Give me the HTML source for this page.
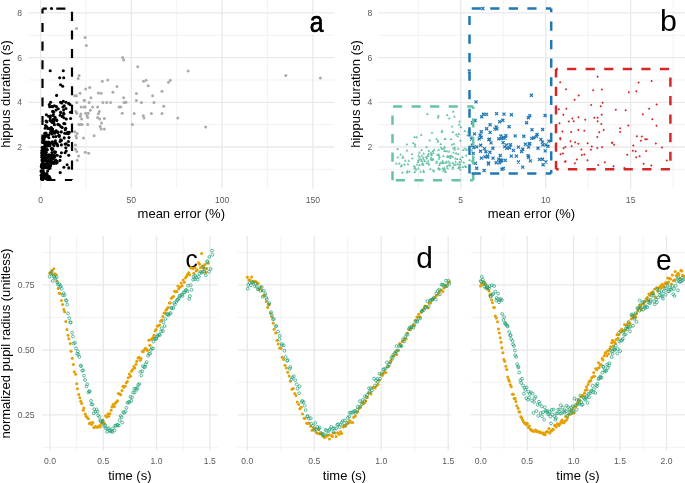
<!DOCTYPE html>
<html><head><meta charset="utf-8"><style>
html,body{margin:0;padding:0;background:#fff;overflow:hidden;width:685px;height:483px;}
svg{display:block;will-change:transform;}
</style></head><body>
<svg width="685" height="483" viewBox="0 0 685 483">
<rect width="685" height="483" fill="#fff"/>
<line x1="28.3" x2="334.3" y1="169.37" y2="169.37" stroke="#f1f1f1" stroke-width="0.9"/>
<line x1="28.3" x2="334.3" y1="124.67" y2="124.67" stroke="#f1f1f1" stroke-width="0.9"/>
<line x1="28.3" x2="334.3" y1="79.97" y2="79.97" stroke="#f1f1f1" stroke-width="0.9"/>
<line x1="28.3" x2="334.3" y1="35.27" y2="35.27" stroke="#f1f1f1" stroke-width="0.9"/>
<line x1="85.97" x2="85.97" y1="0" y2="188.7" stroke="#f1f1f1" stroke-width="0.9"/>
<line x1="176.72" x2="176.72" y1="0" y2="188.7" stroke="#f1f1f1" stroke-width="0.9"/>
<line x1="267.48" x2="267.48" y1="0" y2="188.7" stroke="#f1f1f1" stroke-width="0.9"/>
<line x1="28.3" x2="334.3" y1="147.02" y2="147.02" stroke="#e9e9e9" stroke-width="1.3"/>
<line x1="28.3" x2="334.3" y1="102.32" y2="102.32" stroke="#e9e9e9" stroke-width="1.3"/>
<line x1="28.3" x2="334.3" y1="57.62" y2="57.62" stroke="#e9e9e9" stroke-width="1.3"/>
<line x1="28.3" x2="334.3" y1="12.92" y2="12.92" stroke="#e9e9e9" stroke-width="1.3"/>
<line x1="40.60" x2="40.60" y1="0" y2="188.7" stroke="#e9e9e9" stroke-width="1.3"/>
<line x1="131.35" x2="131.35" y1="0" y2="188.7" stroke="#e9e9e9" stroke-width="1.3"/>
<line x1="222.10" x2="222.10" y1="0" y2="188.7" stroke="#e9e9e9" stroke-width="1.3"/>
<line x1="312.85" x2="312.85" y1="0" y2="188.7" stroke="#e9e9e9" stroke-width="1.3"/>
<line x1="378.4" x2="685" y1="169.37" y2="169.37" stroke="#f1f1f1" stroke-width="0.9"/>
<line x1="378.4" x2="685" y1="124.67" y2="124.67" stroke="#f1f1f1" stroke-width="0.9"/>
<line x1="378.4" x2="685" y1="79.97" y2="79.97" stroke="#f1f1f1" stroke-width="0.9"/>
<line x1="378.4" x2="685" y1="35.27" y2="35.27" stroke="#f1f1f1" stroke-width="0.9"/>
<line x1="418.27" x2="418.27" y1="0" y2="188.7" stroke="#f1f1f1" stroke-width="0.9"/>
<line x1="503.23" x2="503.23" y1="0" y2="188.7" stroke="#f1f1f1" stroke-width="0.9"/>
<line x1="588.17" x2="588.17" y1="0" y2="188.7" stroke="#f1f1f1" stroke-width="0.9"/>
<line x1="673.12" x2="673.12" y1="0" y2="188.7" stroke="#f1f1f1" stroke-width="0.9"/>
<line x1="378.4" x2="685" y1="147.02" y2="147.02" stroke="#e9e9e9" stroke-width="1.3"/>
<line x1="378.4" x2="685" y1="102.32" y2="102.32" stroke="#e9e9e9" stroke-width="1.3"/>
<line x1="378.4" x2="685" y1="57.62" y2="57.62" stroke="#e9e9e9" stroke-width="1.3"/>
<line x1="378.4" x2="685" y1="12.92" y2="12.92" stroke="#e9e9e9" stroke-width="1.3"/>
<line x1="460.75" x2="460.75" y1="0" y2="188.7" stroke="#e9e9e9" stroke-width="1.3"/>
<line x1="545.70" x2="545.70" y1="0" y2="188.7" stroke="#e9e9e9" stroke-width="1.3"/>
<line x1="630.65" x2="630.65" y1="0" y2="188.7" stroke="#e9e9e9" stroke-width="1.3"/>
<line x1="41.8" x2="217.8" y1="447.40" y2="447.40" stroke="#f1f1f1" stroke-width="0.9"/>
<line x1="41.8" x2="217.8" y1="382.40" y2="382.40" stroke="#f1f1f1" stroke-width="0.9"/>
<line x1="41.8" x2="217.8" y1="317.40" y2="317.40" stroke="#f1f1f1" stroke-width="0.9"/>
<line x1="41.8" x2="217.8" y1="252.40" y2="252.40" stroke="#f1f1f1" stroke-width="0.9"/>
<line x1="76.64" x2="76.64" y1="236.1" y2="450.5" stroke="#f1f1f1" stroke-width="0.9"/>
<line x1="129.93" x2="129.93" y1="236.1" y2="450.5" stroke="#f1f1f1" stroke-width="0.9"/>
<line x1="183.21" x2="183.21" y1="236.1" y2="450.5" stroke="#f1f1f1" stroke-width="0.9"/>
<line x1="41.8" x2="217.8" y1="414.90" y2="414.90" stroke="#e9e9e9" stroke-width="1.3"/>
<line x1="41.8" x2="217.8" y1="349.90" y2="349.90" stroke="#e9e9e9" stroke-width="1.3"/>
<line x1="41.8" x2="217.8" y1="284.90" y2="284.90" stroke="#e9e9e9" stroke-width="1.3"/>
<line x1="50.00" x2="50.00" y1="236.1" y2="450.5" stroke="#e9e9e9" stroke-width="1.3"/>
<line x1="103.28" x2="103.28" y1="236.1" y2="450.5" stroke="#e9e9e9" stroke-width="1.3"/>
<line x1="156.57" x2="156.57" y1="236.1" y2="450.5" stroke="#e9e9e9" stroke-width="1.3"/>
<line x1="209.85" x2="209.85" y1="236.1" y2="450.5" stroke="#e9e9e9" stroke-width="1.3"/>
<line x1="237.7" x2="450.9" y1="447.40" y2="447.40" stroke="#f1f1f1" stroke-width="0.9"/>
<line x1="237.7" x2="450.9" y1="382.40" y2="382.40" stroke="#f1f1f1" stroke-width="0.9"/>
<line x1="237.7" x2="450.9" y1="317.40" y2="317.40" stroke="#f1f1f1" stroke-width="0.9"/>
<line x1="237.7" x2="450.9" y1="252.40" y2="252.40" stroke="#f1f1f1" stroke-width="0.9"/>
<line x1="280.75" x2="280.75" y1="236.1" y2="450.5" stroke="#f1f1f1" stroke-width="0.9"/>
<line x1="347.73" x2="347.73" y1="236.1" y2="450.5" stroke="#f1f1f1" stroke-width="0.9"/>
<line x1="414.71" x2="414.71" y1="236.1" y2="450.5" stroke="#f1f1f1" stroke-width="0.9"/>
<line x1="237.7" x2="450.9" y1="414.90" y2="414.90" stroke="#e9e9e9" stroke-width="1.3"/>
<line x1="237.7" x2="450.9" y1="349.90" y2="349.90" stroke="#e9e9e9" stroke-width="1.3"/>
<line x1="237.7" x2="450.9" y1="284.90" y2="284.90" stroke="#e9e9e9" stroke-width="1.3"/>
<line x1="247.26" x2="247.26" y1="236.1" y2="450.5" stroke="#e9e9e9" stroke-width="1.3"/>
<line x1="314.24" x2="314.24" y1="236.1" y2="450.5" stroke="#e9e9e9" stroke-width="1.3"/>
<line x1="381.22" x2="381.22" y1="236.1" y2="450.5" stroke="#e9e9e9" stroke-width="1.3"/>
<line x1="448.20" x2="448.20" y1="236.1" y2="450.5" stroke="#e9e9e9" stroke-width="1.3"/>
<line x1="470.8" x2="685" y1="447.40" y2="447.40" stroke="#f1f1f1" stroke-width="0.9"/>
<line x1="470.8" x2="685" y1="382.40" y2="382.40" stroke="#f1f1f1" stroke-width="0.9"/>
<line x1="470.8" x2="685" y1="317.40" y2="317.40" stroke="#f1f1f1" stroke-width="0.9"/>
<line x1="470.8" x2="685" y1="252.40" y2="252.40" stroke="#f1f1f1" stroke-width="0.9"/>
<line x1="503.98" x2="503.98" y1="236.1" y2="450.5" stroke="#f1f1f1" stroke-width="0.9"/>
<line x1="550.41" x2="550.41" y1="236.1" y2="450.5" stroke="#f1f1f1" stroke-width="0.9"/>
<line x1="596.83" x2="596.83" y1="236.1" y2="450.5" stroke="#f1f1f1" stroke-width="0.9"/>
<line x1="643.26" x2="643.26" y1="236.1" y2="450.5" stroke="#f1f1f1" stroke-width="0.9"/>
<line x1="470.8" x2="685" y1="414.90" y2="414.90" stroke="#e9e9e9" stroke-width="1.3"/>
<line x1="470.8" x2="685" y1="349.90" y2="349.90" stroke="#e9e9e9" stroke-width="1.3"/>
<line x1="470.8" x2="685" y1="284.90" y2="284.90" stroke="#e9e9e9" stroke-width="1.3"/>
<line x1="480.77" x2="480.77" y1="236.1" y2="450.5" stroke="#e9e9e9" stroke-width="1.3"/>
<line x1="527.19" x2="527.19" y1="236.1" y2="450.5" stroke="#e9e9e9" stroke-width="1.3"/>
<line x1="573.62" x2="573.62" y1="236.1" y2="450.5" stroke="#e9e9e9" stroke-width="1.3"/>
<line x1="620.04" x2="620.04" y1="236.1" y2="450.5" stroke="#e9e9e9" stroke-width="1.3"/>
<line x1="666.47" x2="666.47" y1="236.1" y2="450.5" stroke="#e9e9e9" stroke-width="1.3"/>
<text transform="translate(309.8 32.1) scale(0.825 1)" font-size="30" fill="#000" stroke="#fff" stroke-width="5" stroke-linejoin="round" paint-order="stroke" style="font-family:'Liberation Sans',sans-serif">a</text>
<text transform="translate(309.8 32.1) scale(0.825 1)" font-size="30" fill="#000" stroke="#000" stroke-width="0.5" style="font-family:'Liberation Sans',sans-serif">a</text>
<text transform="translate(660.1 31.3) scale(1.0 1)" font-size="30.4" fill="#000" stroke="#fff" stroke-width="4" stroke-linejoin="round" paint-order="stroke" style="font-family:'Liberation Sans',sans-serif">b</text>
<text transform="translate(185.5 267.65) scale(0.97 1)" font-size="25.2" fill="#000" stroke="#fff" stroke-width="0" stroke-linejoin="round" paint-order="stroke" style="font-family:'Liberation Sans',sans-serif">c</text>
<text transform="translate(416.2 268.0) scale(0.99 1)" font-size="30.2" fill="#000" stroke="#fff" stroke-width="4" stroke-linejoin="round" paint-order="stroke" style="font-family:'Liberation Sans',sans-serif">d</text>
<text transform="translate(655.96 269.7) scale(0.985 1)" font-size="28.7" fill="#000" stroke="#fff" stroke-width="4" stroke-linejoin="round" paint-order="stroke" style="font-family:'Liberation Sans',sans-serif">e</text>
<g fill="#ababab"><circle cx="76.5" cy="28.5" r="1.5"/><circle cx="85.1" cy="37.6" r="1.5"/><circle cx="86.3" cy="45.5" r="1.5"/><circle cx="122.6" cy="57.5" r="1.5"/><circle cx="123.6" cy="60.1" r="1.5"/><circle cx="79.1" cy="75.5" r="1.5"/><circle cx="78.2" cy="78.6" r="1.5"/><circle cx="102.3" cy="81.3" r="1.5"/><circle cx="107.8" cy="80.0" r="1.5"/><circle cx="117.0" cy="86.5" r="1.5"/><circle cx="89.7" cy="87.6" r="1.5"/><circle cx="85.6" cy="89.0" r="1.5"/><circle cx="112.9" cy="92.2" r="1.5"/><circle cx="80.0" cy="93.2" r="1.5"/><circle cx="98.3" cy="92.9" r="1.5"/><circle cx="101.1" cy="93.2" r="1.5"/><circle cx="74.7" cy="95.7" r="1.5"/><circle cx="76.5" cy="95.7" r="1.5"/><circle cx="90.9" cy="97.8" r="1.5"/><circle cx="123.6" cy="97.8" r="1.5"/><circle cx="84.4" cy="100.3" r="1.5"/><circle cx="76.8" cy="102.5" r="1.5"/><circle cx="84.2" cy="100.5" r="1.5"/><circle cx="89.1" cy="102.5" r="1.5"/><circle cx="102.9" cy="102.5" r="1.5"/><circle cx="106.7" cy="102.5" r="1.5"/><circle cx="110.6" cy="102.5" r="1.5"/><circle cx="124.0" cy="102.5" r="1.5"/><circle cx="125.4" cy="102.5" r="1.5"/><circle cx="81.2" cy="107.0" r="1.5"/><circle cx="84.2" cy="107.0" r="1.5"/><circle cx="85.1" cy="107.0" r="1.5"/><circle cx="92.6" cy="107.0" r="1.5"/><circle cx="97.6" cy="107.0" r="1.5"/><circle cx="119.0" cy="107.0" r="1.5"/><circle cx="120.8" cy="107.0" r="1.5"/><circle cx="75.9" cy="111.4" r="1.5"/><circle cx="76.8" cy="113.2" r="1.5"/><circle cx="90.4" cy="110.2" r="1.5"/><circle cx="99.3" cy="111.4" r="1.5"/><circle cx="98.3" cy="113.7" r="1.5"/><circle cx="122.2" cy="113.2" r="1.5"/><circle cx="80.9" cy="114.0" r="1.5"/><circle cx="80.3" cy="116.2" r="1.5"/><circle cx="85.6" cy="113.2" r="1.5"/><circle cx="88.2" cy="113.2" r="1.5"/><circle cx="87.0" cy="115.8" r="1.5"/><circle cx="87.7" cy="117.6" r="1.5"/><circle cx="81.6" cy="119.0" r="1.5"/><circle cx="97.6" cy="117.6" r="1.5"/><circle cx="99.7" cy="119.0" r="1.5"/><circle cx="104.3" cy="118.5" r="1.5"/><circle cx="101.5" cy="122.9" r="1.5"/><circle cx="78.9" cy="124.6" r="1.5"/><circle cx="80.7" cy="124.6" r="1.5"/><circle cx="82.1" cy="124.6" r="1.5"/><circle cx="87.7" cy="124.6" r="1.5"/><circle cx="100.2" cy="126.4" r="1.5"/><circle cx="101.1" cy="129.0" r="1.5"/><circle cx="104.4" cy="129.0" r="1.5"/><circle cx="74.7" cy="131.7" r="1.5"/><circle cx="77.2" cy="133.5" r="1.5"/><circle cx="75.9" cy="136.1" r="1.5"/><circle cx="76.5" cy="137.9" r="1.5"/><circle cx="83.5" cy="137.9" r="1.5"/><circle cx="94.1" cy="135.7" r="1.5"/><circle cx="75.4" cy="144.9" r="1.5"/><circle cx="75.4" cy="149.3" r="1.5"/><circle cx="76.8" cy="151.4" r="1.5"/><circle cx="85.3" cy="152.3" r="1.5"/><circle cx="88.6" cy="153.3" r="1.5"/><circle cx="78.6" cy="156.0" r="1.5"/><circle cx="77.2" cy="160.2" r="1.5"/><circle cx="137.7" cy="66.7" r="1.5"/><circle cx="143.5" cy="81.3" r="1.5"/><circle cx="146.1" cy="80.2" r="1.5"/><circle cx="148.2" cy="85.7" r="1.5"/><circle cx="168.5" cy="82.3" r="1.5"/><circle cx="170.4" cy="80.2" r="1.5"/><circle cx="162.0" cy="91.3" r="1.5"/><circle cx="136.4" cy="93.4" r="1.5"/><circle cx="152.6" cy="95.7" r="1.5"/><circle cx="136.4" cy="100.5" r="1.5"/><circle cx="141.4" cy="102.4" r="1.5"/><circle cx="154.0" cy="102.4" r="1.5"/><circle cx="125.9" cy="102.2" r="1.5"/><circle cx="163.7" cy="106.3" r="1.5"/><circle cx="134.2" cy="113.6" r="1.5"/><circle cx="143.3" cy="115.8" r="1.5"/><circle cx="144.0" cy="118.1" r="1.5"/><circle cx="151.4" cy="113.6" r="1.5"/><circle cx="162.0" cy="113.6" r="1.5"/><circle cx="177.8" cy="118.1" r="1.5"/><circle cx="132.4" cy="124.6" r="1.5"/><circle cx="188.2" cy="71.1" r="1.5"/><circle cx="205.7" cy="126.9" r="1.5"/><circle cx="285.8" cy="75.5" r="1.5"/><circle cx="320.4" cy="77.9" r="1.5"/></g>
<g fill="#000"><circle cx="42.0" cy="176.2" r="1.55"/><circle cx="42.4" cy="174.0" r="1.55"/><circle cx="45.7" cy="178.8" r="1.55"/><circle cx="42.1" cy="178.7" r="1.55"/><circle cx="43.3" cy="175.2" r="1.55"/><circle cx="43.2" cy="173.1" r="1.55"/><circle cx="42.3" cy="173.6" r="1.55"/><circle cx="41.2" cy="170.8" r="1.55"/><circle cx="44.0" cy="178.0" r="1.55"/><circle cx="48.8" cy="177.6" r="1.55"/><circle cx="42.5" cy="173.0" r="1.55"/><circle cx="41.4" cy="178.8" r="1.55"/><circle cx="43.3" cy="172.6" r="1.55"/><circle cx="46.5" cy="174.9" r="1.55"/><circle cx="41.2" cy="171.4" r="1.55"/><circle cx="46.9" cy="174.1" r="1.55"/><circle cx="43.2" cy="172.1" r="1.55"/><circle cx="41.2" cy="175.2" r="1.55"/><circle cx="47.5" cy="177.9" r="1.55"/><circle cx="42.6" cy="171.7" r="1.55"/><circle cx="43.0" cy="170.6" r="1.55"/><circle cx="46.7" cy="173.6" r="1.55"/><circle cx="47.6" cy="171.0" r="1.55"/><circle cx="42.0" cy="178.8" r="1.55"/><circle cx="42.6" cy="172.9" r="1.55"/><circle cx="44.3" cy="175.5" r="1.55"/><circle cx="42.1" cy="179.2" r="1.55"/><circle cx="42.9" cy="178.8" r="1.55"/><circle cx="48.1" cy="178.1" r="1.55"/><circle cx="46.8" cy="178.6" r="1.55"/><circle cx="44.8" cy="173.9" r="1.55"/><circle cx="49.2" cy="176.6" r="1.55"/><circle cx="43.5" cy="175.8" r="1.55"/><circle cx="41.6" cy="177.7" r="1.55"/><circle cx="44.0" cy="177.1" r="1.55"/><circle cx="42.8" cy="179.4" r="1.55"/><circle cx="47.6" cy="175.7" r="1.55"/><circle cx="43.0" cy="174.2" r="1.55"/><circle cx="60.2" cy="172.6" r="1.55"/><circle cx="42.3" cy="171.6" r="1.55"/><circle cx="45.3" cy="175.4" r="1.55"/><circle cx="42.4" cy="173.0" r="1.55"/><circle cx="41.8" cy="177.3" r="1.55"/><circle cx="42.2" cy="179.4" r="1.55"/><circle cx="50.1" cy="178.4" r="1.55"/><circle cx="42.4" cy="173.3" r="1.55"/><circle cx="43.2" cy="166.6" r="1.55"/><circle cx="43.5" cy="159.9" r="1.55"/><circle cx="43.5" cy="164.2" r="1.55"/><circle cx="42.6" cy="165.5" r="1.55"/><circle cx="55.7" cy="160.1" r="1.55"/><circle cx="43.3" cy="163.5" r="1.55"/><circle cx="56.2" cy="163.3" r="1.55"/><circle cx="42.7" cy="158.4" r="1.55"/><circle cx="45.5" cy="165.3" r="1.55"/><circle cx="42.1" cy="160.7" r="1.55"/><circle cx="46.4" cy="166.9" r="1.55"/><circle cx="45.0" cy="158.4" r="1.55"/><circle cx="51.5" cy="161.1" r="1.55"/><circle cx="42.5" cy="163.6" r="1.55"/><circle cx="41.4" cy="166.2" r="1.55"/><circle cx="54.5" cy="161.6" r="1.55"/><circle cx="45.7" cy="158.3" r="1.55"/><circle cx="41.7" cy="165.3" r="1.55"/><circle cx="45.1" cy="167.1" r="1.55"/><circle cx="49.8" cy="159.3" r="1.55"/><circle cx="60.0" cy="160.4" r="1.55"/><circle cx="42.3" cy="159.2" r="1.55"/><circle cx="45.7" cy="161.0" r="1.55"/><circle cx="50.7" cy="165.7" r="1.55"/><circle cx="53.0" cy="158.5" r="1.55"/><circle cx="49.6" cy="161.3" r="1.55"/><circle cx="50.1" cy="168.0" r="1.55"/><circle cx="47.3" cy="167.7" r="1.55"/><circle cx="45.6" cy="158.4" r="1.55"/><circle cx="68.8" cy="167.9" r="1.55"/><circle cx="47.2" cy="162.1" r="1.55"/><circle cx="48.9" cy="158.9" r="1.55"/><circle cx="49.2" cy="167.0" r="1.55"/><circle cx="45.1" cy="166.1" r="1.55"/><circle cx="67.1" cy="164.7" r="1.55"/><circle cx="43.5" cy="165.4" r="1.55"/><circle cx="52.9" cy="162.9" r="1.55"/><circle cx="47.5" cy="163.8" r="1.55"/><circle cx="53.7" cy="163.5" r="1.55"/><circle cx="63.9" cy="167.3" r="1.55"/><circle cx="42.3" cy="167.4" r="1.55"/><circle cx="48.7" cy="165.7" r="1.55"/><circle cx="47.2" cy="163.2" r="1.55"/><circle cx="45.9" cy="166.6" r="1.55"/><circle cx="50.5" cy="160.7" r="1.55"/><circle cx="45.0" cy="159.2" r="1.55"/><circle cx="50.3" cy="162.5" r="1.55"/><circle cx="41.8" cy="164.3" r="1.55"/><circle cx="45.0" cy="164.0" r="1.55"/><circle cx="52.8" cy="158.8" r="1.55"/><circle cx="42.9" cy="163.1" r="1.55"/><circle cx="43.9" cy="168.0" r="1.55"/><circle cx="49.1" cy="168.6" r="1.55"/><circle cx="45.1" cy="160.6" r="1.55"/><circle cx="42.9" cy="167.6" r="1.55"/><circle cx="44.0" cy="159.5" r="1.55"/><circle cx="46.7" cy="166.9" r="1.55"/><circle cx="45.3" cy="158.3" r="1.55"/><circle cx="46.6" cy="167.6" r="1.55"/><circle cx="41.7" cy="167.2" r="1.55"/><circle cx="56.9" cy="161.3" r="1.55"/><circle cx="50.6" cy="164.4" r="1.55"/><circle cx="57.1" cy="162.4" r="1.55"/><circle cx="48.0" cy="160.6" r="1.55"/><circle cx="53.9" cy="157.0" r="1.55"/><circle cx="54.1" cy="155.2" r="1.55"/><circle cx="44.8" cy="148.0" r="1.55"/><circle cx="68.7" cy="155.3" r="1.55"/><circle cx="43.8" cy="151.8" r="1.55"/><circle cx="43.0" cy="150.5" r="1.55"/><circle cx="50.4" cy="157.4" r="1.55"/><circle cx="51.5" cy="157.3" r="1.55"/><circle cx="48.0" cy="157.5" r="1.55"/><circle cx="43.6" cy="152.0" r="1.55"/><circle cx="57.2" cy="155.2" r="1.55"/><circle cx="46.4" cy="155.5" r="1.55"/><circle cx="44.0" cy="157.6" r="1.55"/><circle cx="47.4" cy="149.7" r="1.55"/><circle cx="51.9" cy="152.6" r="1.55"/><circle cx="53.4" cy="158.0" r="1.55"/><circle cx="55.6" cy="152.0" r="1.55"/><circle cx="65.8" cy="147.8" r="1.55"/><circle cx="42.8" cy="153.4" r="1.55"/><circle cx="52.8" cy="148.9" r="1.55"/><circle cx="42.2" cy="147.2" r="1.55"/><circle cx="46.5" cy="148.9" r="1.55"/><circle cx="45.5" cy="154.3" r="1.55"/><circle cx="47.3" cy="157.4" r="1.55"/><circle cx="44.2" cy="155.3" r="1.55"/><circle cx="44.5" cy="148.8" r="1.55"/><circle cx="46.9" cy="155.5" r="1.55"/><circle cx="54.8" cy="153.1" r="1.55"/><circle cx="50.7" cy="155.3" r="1.55"/><circle cx="43.3" cy="155.5" r="1.55"/><circle cx="48.8" cy="154.7" r="1.55"/><circle cx="41.7" cy="152.9" r="1.55"/><circle cx="47.4" cy="155.9" r="1.55"/><circle cx="41.9" cy="157.2" r="1.55"/><circle cx="50.6" cy="157.7" r="1.55"/><circle cx="53.6" cy="155.6" r="1.55"/><circle cx="43.9" cy="150.8" r="1.55"/><circle cx="51.4" cy="148.4" r="1.55"/><circle cx="60.3" cy="156.5" r="1.55"/><circle cx="66.2" cy="151.0" r="1.55"/><circle cx="43.0" cy="148.2" r="1.55"/><circle cx="54.9" cy="156.6" r="1.55"/><circle cx="46.3" cy="152.6" r="1.55"/><circle cx="54.5" cy="151.7" r="1.55"/><circle cx="41.9" cy="150.6" r="1.55"/><circle cx="43.5" cy="156.7" r="1.55"/><circle cx="51.2" cy="157.0" r="1.55"/><circle cx="45.4" cy="151.2" r="1.55"/><circle cx="65.1" cy="152.7" r="1.55"/><circle cx="52.1" cy="149.8" r="1.55"/><circle cx="44.0" cy="157.5" r="1.55"/><circle cx="49.5" cy="155.4" r="1.55"/><circle cx="43.0" cy="150.0" r="1.55"/><circle cx="61.4" cy="152.7" r="1.55"/><circle cx="42.8" cy="152.8" r="1.55"/><circle cx="46.0" cy="151.0" r="1.55"/><circle cx="51.7" cy="155.4" r="1.55"/><circle cx="44.2" cy="154.8" r="1.55"/><circle cx="41.9" cy="155.2" r="1.55"/><circle cx="43.9" cy="150.5" r="1.55"/><circle cx="52.3" cy="141.8" r="1.55"/><circle cx="49.9" cy="145.7" r="1.55"/><circle cx="55.8" cy="136.6" r="1.55"/><circle cx="64.2" cy="137.9" r="1.55"/><circle cx="48.7" cy="142.0" r="1.55"/><circle cx="59.2" cy="136.5" r="1.55"/><circle cx="46.9" cy="145.4" r="1.55"/><circle cx="44.1" cy="137.9" r="1.55"/><circle cx="44.8" cy="137.1" r="1.55"/><circle cx="42.9" cy="141.6" r="1.55"/><circle cx="60.1" cy="141.5" r="1.55"/><circle cx="52.5" cy="143.6" r="1.55"/><circle cx="56.4" cy="143.5" r="1.55"/><circle cx="69.0" cy="137.6" r="1.55"/><circle cx="42.9" cy="139.1" r="1.55"/><circle cx="66.2" cy="143.8" r="1.55"/><circle cx="61.4" cy="140.4" r="1.55"/><circle cx="44.1" cy="142.2" r="1.55"/><circle cx="47.0" cy="145.9" r="1.55"/><circle cx="57.2" cy="144.2" r="1.55"/><circle cx="61.4" cy="144.9" r="1.55"/><circle cx="47.2" cy="136.3" r="1.55"/><circle cx="53.4" cy="136.8" r="1.55"/><circle cx="55.4" cy="140.9" r="1.55"/><circle cx="46.8" cy="142.0" r="1.55"/><circle cx="60.6" cy="139.8" r="1.55"/><circle cx="48.4" cy="145.6" r="1.55"/><circle cx="44.3" cy="143.2" r="1.55"/><circle cx="65.1" cy="144.1" r="1.55"/><circle cx="46.7" cy="143.7" r="1.55"/><circle cx="68.4" cy="145.2" r="1.55"/><circle cx="68.4" cy="141.5" r="1.55"/><circle cx="45.8" cy="135.9" r="1.55"/><circle cx="45.3" cy="145.5" r="1.55"/><circle cx="49.5" cy="143.2" r="1.55"/><circle cx="53.1" cy="144.1" r="1.55"/><circle cx="51.6" cy="142.4" r="1.55"/><circle cx="44.3" cy="141.2" r="1.55"/><circle cx="45.3" cy="143.9" r="1.55"/><circle cx="54.0" cy="145.6" r="1.55"/><circle cx="49.8" cy="144.6" r="1.55"/><circle cx="54.6" cy="142.6" r="1.55"/><circle cx="44.0" cy="136.4" r="1.55"/><circle cx="44.0" cy="146.7" r="1.55"/><circle cx="42.9" cy="137.0" r="1.55"/><circle cx="42.9" cy="142.6" r="1.55"/><circle cx="48.9" cy="137.8" r="1.55"/><circle cx="57.6" cy="145.8" r="1.55"/><circle cx="43.8" cy="139.4" r="1.55"/><circle cx="43.6" cy="139.0" r="1.55"/><circle cx="65.3" cy="129.7" r="1.55"/><circle cx="54.6" cy="133.2" r="1.55"/><circle cx="48.0" cy="128.6" r="1.55"/><circle cx="46.0" cy="133.0" r="1.55"/><circle cx="48.8" cy="135.1" r="1.55"/><circle cx="50.5" cy="129.3" r="1.55"/><circle cx="52.6" cy="129.1" r="1.55"/><circle cx="56.2" cy="130.7" r="1.55"/><circle cx="51.1" cy="130.5" r="1.55"/><circle cx="59.4" cy="125.1" r="1.55"/><circle cx="57.8" cy="132.4" r="1.55"/><circle cx="45.2" cy="128.3" r="1.55"/><circle cx="45.5" cy="125.5" r="1.55"/><circle cx="58.0" cy="132.1" r="1.55"/><circle cx="65.7" cy="128.2" r="1.55"/><circle cx="51.3" cy="127.6" r="1.55"/><circle cx="67.7" cy="132.4" r="1.55"/><circle cx="64.7" cy="133.3" r="1.55"/><circle cx="50.4" cy="132.5" r="1.55"/><circle cx="44.7" cy="133.3" r="1.55"/><circle cx="50.1" cy="128.4" r="1.55"/><circle cx="51.8" cy="133.5" r="1.55"/><circle cx="46.2" cy="134.3" r="1.55"/><circle cx="55.6" cy="131.4" r="1.55"/><circle cx="54.4" cy="124.7" r="1.55"/><circle cx="69.4" cy="132.2" r="1.55"/><circle cx="62.2" cy="127.5" r="1.55"/><circle cx="53.4" cy="131.6" r="1.55"/><circle cx="52.0" cy="134.0" r="1.55"/><circle cx="61.3" cy="131.9" r="1.55"/><circle cx="66.4" cy="133.5" r="1.55"/><circle cx="61.0" cy="126.7" r="1.55"/><circle cx="58.8" cy="135.3" r="1.55"/><circle cx="68.4" cy="133.7" r="1.55"/><circle cx="59.2" cy="135.5" r="1.55"/><circle cx="46.9" cy="126.8" r="1.55"/><circle cx="45.2" cy="135.1" r="1.55"/><circle cx="51.2" cy="133.0" r="1.55"/><circle cx="51.5" cy="121.6" r="1.55"/><circle cx="64.0" cy="117.8" r="1.55"/><circle cx="46.1" cy="121.1" r="1.55"/><circle cx="62.0" cy="116.2" r="1.55"/><circle cx="57.9" cy="124.4" r="1.55"/><circle cx="63.9" cy="114.0" r="1.55"/><circle cx="56.8" cy="120.4" r="1.55"/><circle cx="53.4" cy="119.2" r="1.55"/><circle cx="62.5" cy="116.4" r="1.55"/><circle cx="50.2" cy="116.0" r="1.55"/><circle cx="53.8" cy="120.6" r="1.55"/><circle cx="64.9" cy="123.8" r="1.55"/><circle cx="46.9" cy="121.9" r="1.55"/><circle cx="70.6" cy="118.5" r="1.55"/><circle cx="46.4" cy="114.8" r="1.55"/><circle cx="63.8" cy="123.6" r="1.55"/><circle cx="56.5" cy="119.7" r="1.55"/><circle cx="50.2" cy="117.7" r="1.55"/><circle cx="48.6" cy="116.3" r="1.55"/><circle cx="60.2" cy="115.3" r="1.55"/><circle cx="50.4" cy="120.5" r="1.55"/><circle cx="52.2" cy="122.4" r="1.55"/><circle cx="53.9" cy="123.0" r="1.55"/><circle cx="50.2" cy="120.2" r="1.55"/><circle cx="66.3" cy="119.0" r="1.55"/><circle cx="55.1" cy="117.4" r="1.55"/><circle cx="52.8" cy="115.5" r="1.55"/><circle cx="53.4" cy="114.5" r="1.55"/><circle cx="70.5" cy="112.2" r="1.55"/><circle cx="63.0" cy="107.0" r="1.55"/><circle cx="65.9" cy="108.5" r="1.55"/><circle cx="61.7" cy="102.9" r="1.55"/><circle cx="56.4" cy="106.6" r="1.55"/><circle cx="53.8" cy="111.9" r="1.55"/><circle cx="52.6" cy="106.8" r="1.55"/><circle cx="63.6" cy="113.4" r="1.55"/><circle cx="52.6" cy="111.4" r="1.55"/><circle cx="49.3" cy="104.6" r="1.55"/><circle cx="60.6" cy="112.4" r="1.55"/><circle cx="51.7" cy="106.4" r="1.55"/><circle cx="54.4" cy="105.7" r="1.55"/><circle cx="63.6" cy="110.1" r="1.55"/><circle cx="56.2" cy="110.0" r="1.55"/><circle cx="58.2" cy="108.8" r="1.55"/><circle cx="51.5" cy="8.5" r="1.55"/><circle cx="50.2" cy="70.8" r="1.55"/><circle cx="63.3" cy="70.8" r="1.55"/><circle cx="59.7" cy="77.7" r="1.55"/><circle cx="63.7" cy="77.7" r="1.55"/><circle cx="60.6" cy="84.7" r="1.55"/><circle cx="62.7" cy="86.2" r="1.55"/><circle cx="56.6" cy="95.4" r="1.55"/><circle cx="50.6" cy="102.3" r="1.55"/><circle cx="49.7" cy="106.8" r="1.55"/><circle cx="60.6" cy="102.3" r="1.55"/><circle cx="63.3" cy="101.2" r="1.55"/><circle cx="66.0" cy="102.3" r="1.55"/><circle cx="68.7" cy="103.4" r="1.55"/><circle cx="70.0" cy="104.6" r="1.55"/><circle cx="64.2" cy="105.7" r="1.55"/></g>
<g stroke="#000" stroke-width="2.2" stroke-dasharray="9.1 9.50" fill="none"><line x1="42.5" y1="8.7" x2="72" y2="8.7" stroke-dashoffset="4.80"/><line x1="72" y1="8.7" x2="72" y2="180" stroke-dashoffset="15.50"/><line x1="42.5" y1="180" x2="72" y2="180" stroke-dashoffset="14.80"/><line x1="42.5" y1="8.7" x2="42.5" y2="180" stroke-dashoffset="4.30"/></g>
<g fill="#66c2a5"><path d="M416.6 163.0h2.8l-1.4-2.5z"/><path d="M422.2 171.7h2.8l-1.4-2.5z"/><path d="M458.1 122.4h2.8l-1.4-2.5z"/><path d="M447.8 152.6h2.8l-1.4-2.5z"/><path d="M442.4 163.9h2.8l-1.4-2.5z"/><path d="M445.5 152.2h2.8l-1.4-2.5z"/><path d="M442.6 149.5h2.8l-1.4-2.5z"/><path d="M443.8 140.1h2.8l-1.4-2.5z"/><path d="M443.2 170.8h2.8l-1.4-2.5z"/><path d="M466.0 136.2h2.8l-1.4-2.5z"/><path d="M467.2 132.2h2.8l-1.4-2.5z"/><path d="M406.0 172.3h2.8l-1.4-2.5z"/><path d="M453.5 148.6h2.8l-1.4-2.5z"/><path d="M463.7 149.6h2.8l-1.4-2.5z"/><path d="M420.1 151.0h2.8l-1.4-2.5z"/><path d="M458.9 160.0h2.8l-1.4-2.5z"/><path d="M459.9 162.3h2.8l-1.4-2.5z"/><path d="M413.1 169.2h2.8l-1.4-2.5z"/><path d="M417.7 160.8h2.8l-1.4-2.5z"/><path d="M430.1 156.0h2.8l-1.4-2.5z"/><path d="M407.4 161.8h2.8l-1.4-2.5z"/><path d="M413.6 147.3h2.8l-1.4-2.5z"/><path d="M457.4 135.1h2.8l-1.4-2.5z"/><path d="M451.5 133.1h2.8l-1.4-2.5z"/><path d="M467.3 150.0h2.8l-1.4-2.5z"/><path d="M437.1 116.7h2.8l-1.4-2.5z"/><path d="M437.1 155.4h2.8l-1.4-2.5z"/><path d="M443.5 139.7h2.8l-1.4-2.5z"/><path d="M470.4 139.7h2.8l-1.4-2.5z"/><path d="M401.6 157.8h2.8l-1.4-2.5z"/><path d="M454.7 154.3h2.8l-1.4-2.5z"/><path d="M432.6 172.3h2.8l-1.4-2.5z"/><path d="M459.1 141.5h2.8l-1.4-2.5z"/><path d="M458.6 165.2h2.8l-1.4-2.5z"/><path d="M470.4 162.2h2.8l-1.4-2.5z"/><path d="M435.2 139.9h2.8l-1.4-2.5z"/><path d="M444.6 163.8h2.8l-1.4-2.5z"/><path d="M419.6 160.3h2.8l-1.4-2.5z"/><path d="M464.8 156.4h2.8l-1.4-2.5z"/><path d="M449.5 157.1h2.8l-1.4-2.5z"/><path d="M430.0 155.0h2.8l-1.4-2.5z"/><path d="M400.4 166.3h2.8l-1.4-2.5z"/><path d="M443.2 147.9h2.8l-1.4-2.5z"/><path d="M454.2 162.7h2.8l-1.4-2.5z"/><path d="M440.6 131.7h2.8l-1.4-2.5z"/><path d="M396.2 150.0h2.8l-1.4-2.5z"/><path d="M448.7 166.6h2.8l-1.4-2.5z"/><path d="M413.9 168.8h2.8l-1.4-2.5z"/><path d="M440.6 133.0h2.8l-1.4-2.5z"/><path d="M436.7 141.9h2.8l-1.4-2.5z"/><path d="M395.0 164.4h2.8l-1.4-2.5z"/><path d="M410.9 159.3h2.8l-1.4-2.5z"/><path d="M442.9 169.7h2.8l-1.4-2.5z"/><path d="M403.1 165.5h2.8l-1.4-2.5z"/><path d="M421.8 158.8h2.8l-1.4-2.5z"/><path d="M423.4 162.0h2.8l-1.4-2.5z"/><path d="M429.6 159.9h2.8l-1.4-2.5z"/><path d="M403.9 161.4h2.8l-1.4-2.5z"/><path d="M458.6 168.1h2.8l-1.4-2.5z"/><path d="M422.3 154.5h2.8l-1.4-2.5z"/><path d="M422.3 173.1h2.8l-1.4-2.5z"/><path d="M456.9 154.9h2.8l-1.4-2.5z"/><path d="M468.2 161.1h2.8l-1.4-2.5z"/><path d="M440.7 150.0h2.8l-1.4-2.5z"/><path d="M438.2 169.7h2.8l-1.4-2.5z"/><path d="M457.7 168.2h2.8l-1.4-2.5z"/><path d="M442.8 168.9h2.8l-1.4-2.5z"/><path d="M413.2 138.1h2.8l-1.4-2.5z"/><path d="M396.5 158.3h2.8l-1.4-2.5z"/><path d="M447.9 119.2h2.8l-1.4-2.5z"/><path d="M438.0 170.5h2.8l-1.4-2.5z"/><path d="M428.3 141.2h2.8l-1.4-2.5z"/><path d="M470.4 137.8h2.8l-1.4-2.5z"/><path d="M453.4 150.4h2.8l-1.4-2.5z"/><path d="M420.5 156.8h2.8l-1.4-2.5z"/><path d="M426.8 162.0h2.8l-1.4-2.5z"/><path d="M452.2 153.4h2.8l-1.4-2.5z"/><path d="M401.4 158.7h2.8l-1.4-2.5z"/><path d="M437.2 151.0h2.8l-1.4-2.5z"/><path d="M457.7 125.5h2.8l-1.4-2.5z"/><path d="M447.7 166.1h2.8l-1.4-2.5z"/><path d="M451.8 112.6h2.8l-1.4-2.5z"/><path d="M446.1 157.2h2.8l-1.4-2.5z"/><path d="M447.1 157.7h2.8l-1.4-2.5z"/><path d="M448.4 163.7h2.8l-1.4-2.5z"/><path d="M451.3 163.9h2.8l-1.4-2.5z"/><path d="M450.7 127.5h2.8l-1.4-2.5z"/><path d="M413.6 145.2h2.8l-1.4-2.5z"/><path d="M458.1 163.0h2.8l-1.4-2.5z"/><path d="M436.0 155.7h2.8l-1.4-2.5z"/><path d="M399.7 167.3h2.8l-1.4-2.5z"/><path d="M431.7 160.3h2.8l-1.4-2.5z"/><path d="M408.0 172.5h2.8l-1.4-2.5z"/><path d="M441.0 163.7h2.8l-1.4-2.5z"/><path d="M456.2 165.1h2.8l-1.4-2.5z"/><path d="M425.5 159.4h2.8l-1.4-2.5z"/><path d="M427.0 155.0h2.8l-1.4-2.5z"/><path d="M438.7 164.3h2.8l-1.4-2.5z"/><path d="M401.1 173.5h2.8l-1.4-2.5z"/><path d="M452.6 144.7h2.8l-1.4-2.5z"/><path d="M444.9 162.7h2.8l-1.4-2.5z"/><path d="M405.5 145.3h2.8l-1.4-2.5z"/><path d="M443.2 152.1h2.8l-1.4-2.5z"/><path d="M405.6 151.5h2.8l-1.4-2.5z"/><path d="M451.4 169.5h2.8l-1.4-2.5z"/><path d="M438.0 157.7h2.8l-1.4-2.5z"/><path d="M444.0 172.9h2.8l-1.4-2.5z"/><path d="M445.7 167.2h2.8l-1.4-2.5z"/><path d="M463.9 166.9h2.8l-1.4-2.5z"/><path d="M436.9 169.3h2.8l-1.4-2.5z"/><path d="M441.2 162.0h2.8l-1.4-2.5z"/><path d="M441.1 169.5h2.8l-1.4-2.5z"/><path d="M426.4 157.1h2.8l-1.4-2.5z"/><path d="M454.1 159.6h2.8l-1.4-2.5z"/><path d="M432.9 150.7h2.8l-1.4-2.5z"/><path d="M410.6 155.0h2.8l-1.4-2.5z"/><path d="M467.1 132.8h2.8l-1.4-2.5z"/><path d="M457.0 168.9h2.8l-1.4-2.5z"/><path d="M444.2 172.4h2.8l-1.4-2.5z"/><path d="M464.5 167.9h2.8l-1.4-2.5z"/><path d="M461.1 157.9h2.8l-1.4-2.5z"/><path d="M449.6 139.9h2.8l-1.4-2.5z"/><path d="M447.0 162.6h2.8l-1.4-2.5z"/><path d="M454.8 135.5h2.8l-1.4-2.5z"/><path d="M439.2 164.0h2.8l-1.4-2.5z"/><path d="M452.0 149.2h2.8l-1.4-2.5z"/><path d="M426.7 157.1h2.8l-1.4-2.5z"/><path d="M470.4 138.8h2.8l-1.4-2.5z"/><path d="M421.6 165.8h2.8l-1.4-2.5z"/><path d="M443.5 152.1h2.8l-1.4-2.5z"/><path d="M436.6 118.6h2.8l-1.4-2.5z"/><path d="M449.9 156.8h2.8l-1.4-2.5z"/><path d="M458.0 165.6h2.8l-1.4-2.5z"/><path d="M429.7 158.4h2.8l-1.4-2.5z"/><path d="M441.8 157.1h2.8l-1.4-2.5z"/><path d="M438.0 157.4h2.8l-1.4-2.5z"/><path d="M446.0 157.8h2.8l-1.4-2.5z"/><path d="M418.1 158.2h2.8l-1.4-2.5z"/><path d="M422.3 160.4h2.8l-1.4-2.5z"/><path d="M437.3 155.9h2.8l-1.4-2.5z"/><path d="M424.7 157.9h2.8l-1.4-2.5z"/><path d="M437.6 159.8h2.8l-1.4-2.5z"/><path d="M430.3 161.1h2.8l-1.4-2.5z"/><path d="M456.3 137.2h2.8l-1.4-2.5z"/><path d="M451.6 168.1h2.8l-1.4-2.5z"/><path d="M420.2 162.1h2.8l-1.4-2.5z"/><path d="M431.7 171.3h2.8l-1.4-2.5z"/><path d="M451.3 158.1h2.8l-1.4-2.5z"/><path d="M465.2 150.7h2.8l-1.4-2.5z"/><path d="M426.0 114.9h2.8l-1.4-2.5z"/><path d="M448.8 159.1h2.8l-1.4-2.5z"/><path d="M430.6 133.8h2.8l-1.4-2.5z"/><path d="M421.3 164.2h2.8l-1.4-2.5z"/><path d="M429.5 153.8h2.8l-1.4-2.5z"/><path d="M452.6 165.6h2.8l-1.4-2.5z"/><path d="M406.6 165.3h2.8l-1.4-2.5z"/><path d="M439.6 148.5h2.8l-1.4-2.5z"/><path d="M429.0 169.9h2.8l-1.4-2.5z"/><path d="M459.4 128.0h2.8l-1.4-2.5z"/><path d="M399.2 155.6h2.8l-1.4-2.5z"/><path d="M436.4 142.5h2.8l-1.4-2.5z"/><path d="M435.1 163.8h2.8l-1.4-2.5z"/><path d="M414.6 170.7h2.8l-1.4-2.5z"/><path d="M453.1 117.4h2.8l-1.4-2.5z"/><path d="M438.0 166.1h2.8l-1.4-2.5z"/><path d="M435.4 162.4h2.8l-1.4-2.5z"/><path d="M439.4 145.1h2.8l-1.4-2.5z"/><path d="M463.4 132.1h2.8l-1.4-2.5z"/><path d="M417.0 169.4h2.8l-1.4-2.5z"/><path d="M405.6 173.6h2.8l-1.4-2.5z"/><path d="M427.2 164.4h2.8l-1.4-2.5z"/><path d="M398.0 164.4h2.8l-1.4-2.5z"/><path d="M415.2 138.2h2.8l-1.4-2.5z"/><path d="M470.4 151.5h2.8l-1.4-2.5z"/><path d="M416.8 161.6h2.8l-1.4-2.5z"/><path d="M418.1 165.9h2.8l-1.4-2.5z"/><path d="M413.4 173.1h2.8l-1.4-2.5z"/><path d="M455.8 159.9h2.8l-1.4-2.5z"/><path d="M448.2 157.2h2.8l-1.4-2.5z"/><path d="M456.7 149.8h2.8l-1.4-2.5z"/><path d="M420.9 164.9h2.8l-1.4-2.5z"/><path d="M446.2 169.3h2.8l-1.4-2.5z"/><path d="M453.9 165.8h2.8l-1.4-2.5z"/><path d="M461.5 168.0h2.8l-1.4-2.5z"/><path d="M462.4 163.6h2.8l-1.4-2.5z"/><path d="M440.9 163.9h2.8l-1.4-2.5z"/><path d="M419.8 135.7h2.8l-1.4-2.5z"/><path d="M441.9 171.8h2.8l-1.4-2.5z"/><path d="M458.9 170.4h2.8l-1.4-2.5z"/><path d="M427.4 151.8h2.8l-1.4-2.5z"/><path d="M445.9 116.1h2.8l-1.4-2.5z"/><path d="M418.1 153.4h2.8l-1.4-2.5z"/><path d="M431.8 154.1h2.8l-1.4-2.5z"/><path d="M425.2 147.9h2.8l-1.4-2.5z"/><path d="M417.3 156.4h2.8l-1.4-2.5z"/><path d="M412.7 166.9h2.8l-1.4-2.5z"/><path d="M431.2 160.2h2.8l-1.4-2.5z"/><path d="M419.1 172.4h2.8l-1.4-2.5z"/><path d="M411.8 144.1h2.8l-1.4-2.5z"/><path d="M427.6 165.5h2.8l-1.4-2.5z"/><path d="M415.7 165.5h2.8l-1.4-2.5z"/><path d="M431.5 151.9h2.8l-1.4-2.5z"/><path d="M425.3 164.1h2.8l-1.4-2.5z"/><path d="M450.6 145.4h2.8l-1.4-2.5z"/><path d="M461.9 151.1h2.8l-1.4-2.5z"/></g>
<g stroke="#1f77b4" stroke-width="1.25" fill="none"><path d="M481.3 7.0l3 3M484.3 7.0l-3 3"/><path d="M474.5 100.4l3 3M477.5 100.4l-3 3"/><path d="M529.9 93.7l3 3M532.9 93.7l-3 3"/><path d="M467.7 69.5l3 3M470.7 69.5l-3 3"/><path d="M526.6 154.3l3 3M529.6 154.3l-3 3"/><path d="M523.9 142.8l3 3M526.9 142.8l-3 3"/><path d="M541.3 143.4l3 3M544.3 143.4l-3 3"/><path d="M475.2 166.7l3 3M478.2 166.7l-3 3"/><path d="M543.6 114.0l3 3M546.6 114.0l-3 3"/><path d="M508.0 146.3l3 3M511.0 146.3l-3 3"/><path d="M503.6 136.5l3 3M506.6 136.5l-3 3"/><path d="M547.4 139.6l3 3M550.4 139.6l-3 3"/><path d="M485.0 112.9l3 3M488.0 112.9l-3 3"/><path d="M514.9 154.6l3 3M517.9 154.6l-3 3"/><path d="M501.6 141.1l3 3M504.6 141.1l-3 3"/><path d="M536.5 146.8l3 3M539.5 146.8l-3 3"/><path d="M507.6 125.3l3 3M510.6 125.3l-3 3"/><path d="M535.0 134.9l3 3M538.0 134.9l-3 3"/><path d="M509.8 154.6l3 3M512.8 154.6l-3 3"/><path d="M486.2 155.6l3 3M489.2 155.6l-3 3"/><path d="M493.3 127.5l3 3M496.3 127.5l-3 3"/><path d="M469.9 137.5l3 3M472.9 137.5l-3 3"/><path d="M544.4 143.4l3 3M547.4 143.4l-3 3"/><path d="M502.5 112.6l3 3M505.5 112.6l-3 3"/><path d="M525.1 121.3l3 3M528.1 121.3l-3 3"/><path d="M491.5 156.6l3 3M494.5 156.6l-3 3"/><path d="M494.7 161.2l3 3M497.7 161.2l-3 3"/><path d="M516.9 160.5l3 3M519.9 160.5l-3 3"/><path d="M499.3 159.8l3 3M502.3 159.8l-3 3"/><path d="M480.2 115.3l3 3M483.2 115.3l-3 3"/><path d="M501.3 118.8l3 3M504.3 118.8l-3 3"/><path d="M486.0 154.5l3 3M489.0 154.5l-3 3"/><path d="M481.9 112.8l3 3M484.9 112.8l-3 3"/><path d="M479.2 143.7l3 3M482.2 143.7l-3 3"/><path d="M495.1 112.1l3 3M498.1 112.1l-3 3"/><path d="M498.1 161.4l3 3M501.1 161.4l-3 3"/><path d="M499.0 158.7l3 3M502.0 158.7l-3 3"/><path d="M501.9 136.1l3 3M504.9 136.1l-3 3"/><path d="M475.2 145.4l3 3M478.2 145.4l-3 3"/><path d="M471.8 151.9l3 3M474.8 151.9l-3 3"/><path d="M478.6 133.7l3 3M481.6 133.7l-3 3"/><path d="M541.0 157.8l3 3M544.0 157.8l-3 3"/><path d="M495.4 127.2l3 3M498.4 127.2l-3 3"/><path d="M498.2 120.2l3 3M501.2 120.2l-3 3"/><path d="M526.9 116.2l3 3M529.9 116.2l-3 3"/><path d="M500.4 158.7l3 3M503.4 158.7l-3 3"/><path d="M521.3 147.8l3 3M524.3 147.8l-3 3"/><path d="M505.3 143.5l3 3M508.3 143.5l-3 3"/><path d="M473.0 132.4l3 3M476.0 132.4l-3 3"/><path d="M494.6 125.5l3 3M497.6 125.5l-3 3"/><path d="M500.5 167.8l3 3M503.5 167.8l-3 3"/><path d="M487.3 138.1l3 3M490.3 138.1l-3 3"/><path d="M503.9 158.9l3 3M506.9 158.9l-3 3"/><path d="M477.7 137.4l3 3M480.7 137.4l-3 3"/><path d="M513.7 134.4l3 3M516.7 134.4l-3 3"/><path d="M528.2 142.2l3 3M531.2 142.2l-3 3"/><path d="M500.4 136.7l3 3M503.4 136.7l-3 3"/><path d="M486.9 162.5l3 3M489.9 162.5l-3 3"/><path d="M473.6 119.0l3 3M476.6 119.0l-3 3"/><path d="M489.5 141.4l3 3M492.5 141.4l-3 3"/><path d="M498.8 154.0l3 3M501.8 154.0l-3 3"/><path d="M528.3 114.3l3 3M531.3 114.3l-3 3"/><path d="M520.1 150.0l3 3M523.1 150.0l-3 3"/><path d="M504.4 134.3l3 3M507.4 134.3l-3 3"/><path d="M541.1 128.0l3 3M544.1 128.0l-3 3"/><path d="M546.4 144.8l3 3M549.4 144.8l-3 3"/><path d="M521.2 165.6l3 3M524.2 165.6l-3 3"/><path d="M487.0 161.5l3 3M490.0 161.5l-3 3"/><path d="M539.4 137.9l3 3M542.4 137.9l-3 3"/><path d="M540.9 140.6l3 3M543.9 140.6l-3 3"/><path d="M516.9 145.6l3 3M519.9 145.6l-3 3"/><path d="M488.4 150.7l3 3M491.4 150.7l-3 3"/><path d="M484.4 150.3l3 3M487.4 150.3l-3 3"/><path d="M479.8 130.2l3 3M482.8 130.2l-3 3"/><path d="M527.8 142.2l3 3M530.8 142.2l-3 3"/><path d="M474.0 161.9l3 3M477.0 161.9l-3 3"/><path d="M483.4 155.4l3 3M486.4 155.4l-3 3"/><path d="M488.6 130.9l3 3M491.6 130.9l-3 3"/><path d="M530.3 136.9l3 3M533.3 136.9l-3 3"/><path d="M488.6 123.2l3 3M491.6 123.2l-3 3"/><path d="M479.9 156.6l3 3M482.9 156.6l-3 3"/><path d="M482.6 169.0l3 3M485.6 169.0l-3 3"/><path d="M500.1 136.9l3 3M503.1 136.9l-3 3"/><path d="M479.0 149.8l3 3M482.0 149.8l-3 3"/><path d="M471.0 121.2l3 3M474.0 121.2l-3 3"/><path d="M470.9 143.8l3 3M473.9 143.8l-3 3"/><path d="M509.9 113.3l3 3M512.9 113.3l-3 3"/><path d="M511.9 148.9l3 3M514.9 148.9l-3 3"/><path d="M532.3 136.3l3 3M535.3 136.3l-3 3"/><path d="M538.0 157.9l3 3M541.0 157.9l-3 3"/><path d="M497.3 137.3l3 3M500.3 137.3l-3 3"/><path d="M505.3 146.9l3 3M508.3 146.9l-3 3"/><path d="M527.1 155.8l3 3M530.1 155.8l-3 3"/><path d="M543.7 149.4l3 3M546.7 149.4l-3 3"/><path d="M485.1 127.2l3 3M488.1 127.2l-3 3"/><path d="M482.9 147.1l3 3M485.9 147.1l-3 3"/><path d="M497.3 157.8l3 3M500.3 157.8l-3 3"/><path d="M479.7 135.8l3 3M482.7 135.8l-3 3"/><path d="M509.0 143.2l3 3M512.0 143.2l-3 3"/><path d="M499.4 134.5l3 3M502.4 134.5l-3 3"/><path d="M501.9 166.9l3 3M504.9 166.9l-3 3"/><path d="M527.1 145.6l3 3M530.1 145.6l-3 3"/><path d="M528.9 159.4l3 3M531.9 159.4l-3 3"/><path d="M522.3 134.7l3 3M525.3 134.7l-3 3"/><path d="M503.2 145.1l3 3M506.2 145.1l-3 3"/><path d="M472.2 146.1l3 3M475.2 146.1l-3 3"/><path d="M530.5 128.2l3 3M533.5 128.2l-3 3"/><path d="M491.4 146.7l3 3M494.4 146.7l-3 3"/><path d="M488.0 137.7l3 3M491.0 137.7l-3 3"/><path d="M541.6 163.2l3 3M544.6 163.2l-3 3"/><path d="M535.6 133.0l3 3M538.6 133.0l-3 3"/><path d="M544.4 160.5l3 3M547.4 160.5l-3 3"/></g>
<g fill="#d62728"><path d="M581.9 153.8l1.25 1.25l-1.25 1.25l-1.25-1.25z"/><path d="M587.6 142.1l1.25 1.25l-1.25 1.25l-1.25-1.25z"/><path d="M645.2 138.0l1.25 1.25l-1.25 1.25l-1.25-1.25z"/><path d="M624.4 166.7l1.25 1.25l-1.25 1.25l-1.25-1.25z"/><path d="M597.7 120.0l1.25 1.25l-1.25 1.25l-1.25-1.25z"/><path d="M581.3 148.3l1.25 1.25l-1.25 1.25l-1.25-1.25z"/><path d="M638.6 81.2l1.25 1.25l-1.25 1.25l-1.25-1.25z"/><path d="M563.4 113.5l1.25 1.25l-1.25 1.25l-1.25-1.25z"/><path d="M562.4 130.2l1.25 1.25l-1.25 1.25l-1.25-1.25z"/><path d="M643.7 162.6l1.25 1.25l-1.25 1.25l-1.25-1.25z"/><path d="M594.3 116.6l1.25 1.25l-1.25 1.25l-1.25-1.25z"/><path d="M565.7 160.0l1.25 1.25l-1.25 1.25l-1.25-1.25z"/><path d="M641.8 135.3l1.25 1.25l-1.25 1.25l-1.25-1.25z"/><path d="M560.2 81.0l1.25 1.25l-1.25 1.25l-1.25-1.25z"/><path d="M632.8 149.4l1.25 1.25l-1.25 1.25l-1.25-1.25z"/><path d="M601.9 88.2l1.25 1.25l-1.25 1.25l-1.25-1.25z"/><path d="M656.5 124.6l1.25 1.25l-1.25 1.25l-1.25-1.25z"/><path d="M636.3 90.1l1.25 1.25l-1.25 1.25l-1.25-1.25z"/><path d="M591.8 145.2l1.25 1.25l-1.25 1.25l-1.25-1.25z"/><path d="M635.6 149.9l1.25 1.25l-1.25 1.25l-1.25-1.25z"/><path d="M574.6 98.6l1.25 1.25l-1.25 1.25l-1.25-1.25z"/><path d="M584.3 129.4l1.25 1.25l-1.25 1.25l-1.25-1.25z"/><path d="M576.8 158.3l1.25 1.25l-1.25 1.25l-1.25-1.25z"/><path d="M627.2 153.5l1.25 1.25l-1.25 1.25l-1.25-1.25z"/><path d="M568.9 120.2l1.25 1.25l-1.25 1.25l-1.25-1.25z"/><path d="M565.0 160.5l1.25 1.25l-1.25 1.25l-1.25-1.25z"/><path d="M597.3 135.8l1.25 1.25l-1.25 1.25l-1.25-1.25z"/><path d="M655.8 142.2l1.25 1.25l-1.25 1.25l-1.25-1.25z"/><path d="M628.9 91.0l1.25 1.25l-1.25 1.25l-1.25-1.25z"/><path d="M636.9 135.1l1.25 1.25l-1.25 1.25l-1.25-1.25z"/><path d="M591.2 103.7l1.25 1.25l-1.25 1.25l-1.25-1.25z"/><path d="M628.3 124.2l1.25 1.25l-1.25 1.25l-1.25-1.25z"/><path d="M599.1 130.9l1.25 1.25l-1.25 1.25l-1.25-1.25z"/><path d="M570.5 139.9l1.25 1.25l-1.25 1.25l-1.25-1.25z"/><path d="M640.9 139.6l1.25 1.25l-1.25 1.25l-1.25-1.25z"/><path d="M566.0 88.0l1.25 1.25l-1.25 1.25l-1.25-1.25z"/><path d="M612.0 141.6l1.25 1.25l-1.25 1.25l-1.25-1.25z"/><path d="M571.7 145.1l1.25 1.25l-1.25 1.25l-1.25-1.25z"/><path d="M563.6 147.1l1.25 1.25l-1.25 1.25l-1.25-1.25z"/><path d="M600.8 104.9l1.25 1.25l-1.25 1.25l-1.25-1.25z"/><path d="M613.5 164.9l1.25 1.25l-1.25 1.25l-1.25-1.25z"/><path d="M646.9 138.0l1.25 1.25l-1.25 1.25l-1.25-1.25z"/><path d="M649.1 107.4l1.25 1.25l-1.25 1.25l-1.25-1.25z"/><path d="M587.5 158.9l1.25 1.25l-1.25 1.25l-1.25-1.25z"/><path d="M651.3 164.2l1.25 1.25l-1.25 1.25l-1.25-1.25z"/><path d="M565.3 145.7l1.25 1.25l-1.25 1.25l-1.25-1.25z"/><path d="M559.5 122.1l1.25 1.25l-1.25 1.25l-1.25-1.25z"/><path d="M597.5 116.5l1.25 1.25l-1.25 1.25l-1.25-1.25z"/><path d="M578.3 142.4l1.25 1.25l-1.25 1.25l-1.25-1.25z"/><path d="M597.3 146.8l1.25 1.25l-1.25 1.25l-1.25-1.25z"/><path d="M598.2 163.7l1.25 1.25l-1.25 1.25l-1.25-1.25z"/><path d="M562.9 152.2l1.25 1.25l-1.25 1.25l-1.25-1.25z"/><path d="M652.3 118.1l1.25 1.25l-1.25 1.25l-1.25-1.25z"/><path d="M593.2 89.1l1.25 1.25l-1.25 1.25l-1.25-1.25z"/><path d="M602.6 101.5l1.25 1.25l-1.25 1.25l-1.25-1.25z"/><path d="M651.6 79.8l1.25 1.25l-1.25 1.25l-1.25-1.25z"/><path d="M560.2 136.8l1.25 1.25l-1.25 1.25l-1.25-1.25z"/><path d="M601.7 113.4l1.25 1.25l-1.25 1.25l-1.25-1.25z"/><path d="M591.0 148.6l1.25 1.25l-1.25 1.25l-1.25-1.25z"/><path d="M603.7 128.7l1.25 1.25l-1.25 1.25l-1.25-1.25z"/><path d="M560.4 138.0l1.25 1.25l-1.25 1.25l-1.25-1.25z"/><path d="M572.4 117.2l1.25 1.25l-1.25 1.25l-1.25-1.25z"/><path d="M620.1 130.7l1.25 1.25l-1.25 1.25l-1.25-1.25z"/><path d="M602.1 145.9l1.25 1.25l-1.25 1.25l-1.25-1.25z"/><path d="M614.1 143.5l1.25 1.25l-1.25 1.25l-1.25-1.25z"/><path d="M639.6 155.1l1.25 1.25l-1.25 1.25l-1.25-1.25z"/><path d="M642.8 113.1l1.25 1.25l-1.25 1.25l-1.25-1.25z"/><path d="M612.4 141.6l1.25 1.25l-1.25 1.25l-1.25-1.25z"/><path d="M560.5 153.1l1.25 1.25l-1.25 1.25l-1.25-1.25z"/><path d="M633.3 144.2l1.25 1.25l-1.25 1.25l-1.25-1.25z"/><path d="M574.9 161.9l1.25 1.25l-1.25 1.25l-1.25-1.25z"/><path d="M604.8 161.1l1.25 1.25l-1.25 1.25l-1.25-1.25z"/><path d="M666.8 159.3l1.25 1.25l-1.25 1.25l-1.25-1.25z"/><path d="M578.3 128.8l1.25 1.25l-1.25 1.25l-1.25-1.25z"/><path d="M601.3 122.8l1.25 1.25l-1.25 1.25l-1.25-1.25z"/><path d="M646.2 149.7l1.25 1.25l-1.25 1.25l-1.25-1.25z"/><path d="M558.9 107.9l1.25 1.25l-1.25 1.25l-1.25-1.25z"/><path d="M566.4 107.5l1.25 1.25l-1.25 1.25l-1.25-1.25z"/><path d="M615.8 108.5l1.25 1.25l-1.25 1.25l-1.25-1.25z"/><path d="M625.7 108.9l1.25 1.25l-1.25 1.25l-1.25-1.25z"/><path d="M575.1 141.0l1.25 1.25l-1.25 1.25l-1.25-1.25z"/><path d="M620.2 127.1l1.25 1.25l-1.25 1.25l-1.25-1.25z"/><path d="M656.7 103.3l1.25 1.25l-1.25 1.25l-1.25-1.25z"/><path d="M636.2 155.9l1.25 1.25l-1.25 1.25l-1.25-1.25z"/><path d="M585.2 118.6l1.25 1.25l-1.25 1.25l-1.25-1.25z"/><path d="M578.7 94.2l1.25 1.25l-1.25 1.25l-1.25-1.25z"/><path d="M578.5 116.1l1.25 1.25l-1.25 1.25l-1.25-1.25z"/><path d="M597.6 75.5l1.25 1.25l-1.25 1.25l-1.25-1.25z"/><path d="M571.1 130.8l1.25 1.25l-1.25 1.25l-1.25-1.25z"/><path d="M573.7 120.1l1.25 1.25l-1.25 1.25l-1.25-1.25z"/><path d="M662.0 146.2l1.25 1.25l-1.25 1.25l-1.25-1.25z"/><path d="M584.4 153.2l1.25 1.25l-1.25 1.25l-1.25-1.25z"/></g>
<g stroke="#66c2a5" stroke-width="2.5" stroke-dasharray="9.2 9.35" fill="none"><line x1="392.5" y1="106.5" x2="473.2" y2="106.5" stroke-dashoffset="18.05"/><line x1="473.2" y1="106.5" x2="473.2" y2="180.3" stroke-dashoffset="6.75"/><line x1="392.5" y1="180.3" x2="473.2" y2="180.3" stroke-dashoffset="15.25"/><line x1="392.5" y1="106.5" x2="392.5" y2="180.3" stroke-dashoffset="9.55"/></g>
<g stroke="#1f77b4" stroke-width="2.5" stroke-dasharray="9.2 9.35" fill="none"><line x1="469.5" y1="8.6" x2="551.2" y2="8.6" stroke-dashoffset="16.35"/><line x1="551.2" y1="8.6" x2="551.2" y2="173.4" stroke-dashoffset="5.65"/><line x1="469.5" y1="173.4" x2="551.2" y2="173.4" stroke-dashoffset="16.50"/><line x1="469.5" y1="8.6" x2="469.5" y2="173.4" stroke-dashoffset="11.25"/></g>
<g stroke="#d62728" stroke-width="2.5" stroke-dasharray="9.2 9.35" fill="none"><line x1="556" y1="69" x2="670.4" y2="69" stroke-dashoffset="7.45"/><line x1="670.4" y1="69" x2="670.4" y2="169.2" stroke-dashoffset="10.10"/><line x1="556" y1="169.2" x2="670.4" y2="169.2" stroke-dashoffset="6.55"/><line x1="556" y1="69" x2="556" y2="169.2" stroke-dashoffset="0.70"/></g>
<g fill="#e69f00"><circle cx="49.6" cy="272.9" r="1.5"/><circle cx="50.6" cy="272.8" r="1.5"/><circle cx="51.9" cy="270.6" r="1.5"/><circle cx="52.9" cy="274.6" r="1.5"/><circle cx="53.8" cy="268.8" r="1.5"/><circle cx="55.0" cy="273.7" r="1.5"/><circle cx="56.2" cy="274.7" r="1.5"/><circle cx="57.0" cy="280.9" r="1.5"/><circle cx="58.1" cy="288.4" r="1.5"/><circle cx="59.2" cy="293.3" r="1.5"/><circle cx="60.2" cy="293.5" r="1.5"/><circle cx="61.5" cy="300.6" r="1.5"/><circle cx="62.6" cy="304.5" r="1.5"/><circle cx="63.8" cy="309.4" r="1.5"/><circle cx="64.6" cy="311.7" r="1.5"/><circle cx="65.9" cy="321.6" r="1.5"/><circle cx="67.0" cy="329.4" r="1.5"/><circle cx="68.1" cy="335.2" r="1.5"/><circle cx="68.8" cy="338.7" r="1.5"/><circle cx="70.3" cy="343.6" r="1.5"/><circle cx="71.0" cy="351.2" r="1.5"/><circle cx="72.3" cy="358.2" r="1.5"/><circle cx="73.4" cy="364.5" r="1.5"/><circle cx="74.2" cy="371.8" r="1.5"/><circle cx="75.6" cy="374.3" r="1.5"/><circle cx="76.7" cy="383.7" r="1.5"/><circle cx="77.5" cy="388.7" r="1.5"/><circle cx="78.8" cy="394.4" r="1.5"/><circle cx="79.8" cy="397.8" r="1.5"/><circle cx="80.7" cy="401.3" r="1.5"/><circle cx="81.7" cy="403.5" r="1.5"/><circle cx="83.2" cy="410.2" r="1.5"/><circle cx="83.9" cy="407.9" r="1.5"/><circle cx="85.2" cy="414.0" r="1.5"/><circle cx="86.1" cy="416.3" r="1.5"/><circle cx="87.4" cy="417.8" r="1.5"/><circle cx="88.4" cy="418.7" r="1.5"/><circle cx="89.3" cy="423.4" r="1.5"/><circle cx="90.7" cy="422.7" r="1.5"/><circle cx="91.6" cy="424.5" r="1.5"/><circle cx="92.9" cy="422.6" r="1.5"/><circle cx="93.9" cy="427.6" r="1.5"/><circle cx="94.8" cy="426.9" r="1.5"/><circle cx="95.8" cy="426.5" r="1.5"/><circle cx="97.0" cy="427.3" r="1.5"/><circle cx="98.1" cy="427.1" r="1.5"/><circle cx="99.3" cy="425.8" r="1.5"/><circle cx="100.3" cy="427.0" r="1.5"/><circle cx="101.4" cy="424.1" r="1.5"/><circle cx="102.6" cy="420.0" r="1.5"/><circle cx="103.4" cy="422.7" r="1.5"/><circle cx="104.5" cy="423.4" r="1.5"/><circle cx="105.6" cy="415.7" r="1.5"/><circle cx="106.7" cy="417.1" r="1.5"/><circle cx="108.0" cy="413.7" r="1.5"/><circle cx="108.7" cy="416.2" r="1.5"/><circle cx="109.9" cy="413.7" r="1.5"/><circle cx="111.1" cy="410.2" r="1.5"/><circle cx="112.0" cy="406.9" r="1.5"/><circle cx="113.0" cy="404.5" r="1.5"/><circle cx="114.4" cy="406.4" r="1.5"/><circle cx="115.2" cy="403.3" r="1.5"/><circle cx="116.5" cy="402.0" r="1.5"/><circle cx="117.5" cy="400.8" r="1.5"/><circle cx="118.4" cy="393.5" r="1.5"/><circle cx="119.8" cy="393.9" r="1.5"/><circle cx="120.8" cy="394.7" r="1.5"/><circle cx="122.0" cy="390.4" r="1.5"/><circle cx="123.0" cy="386.3" r="1.5"/><circle cx="123.9" cy="387.2" r="1.5"/><circle cx="125.1" cy="386.2" r="1.5"/><circle cx="126.2" cy="383.0" r="1.5"/><circle cx="127.3" cy="381.5" r="1.5"/><circle cx="128.3" cy="377.7" r="1.5"/><circle cx="129.3" cy="373.9" r="1.5"/><circle cx="130.6" cy="376.2" r="1.5"/><circle cx="131.5" cy="371.2" r="1.5"/><circle cx="132.6" cy="369.4" r="1.5"/><circle cx="133.9" cy="366.4" r="1.5"/><circle cx="134.8" cy="367.9" r="1.5"/><circle cx="136.0" cy="364.3" r="1.5"/><circle cx="136.8" cy="361.2" r="1.5"/><circle cx="138.0" cy="358.1" r="1.5"/><circle cx="139.1" cy="357.3" r="1.5"/><circle cx="140.3" cy="360.3" r="1.5"/><circle cx="141.0" cy="358.4" r="1.5"/><circle cx="142.4" cy="351.6" r="1.5"/><circle cx="143.2" cy="351.8" r="1.5"/><circle cx="144.3" cy="349.8" r="1.5"/><circle cx="145.5" cy="348.3" r="1.5"/><circle cx="146.6" cy="349.2" r="1.5"/><circle cx="147.5" cy="350.4" r="1.5"/><circle cx="148.8" cy="340.2" r="1.5"/><circle cx="149.8" cy="345.2" r="1.5"/><circle cx="151.0" cy="339.5" r="1.5"/><circle cx="151.8" cy="339.0" r="1.5"/><circle cx="153.1" cy="337.4" r="1.5"/><circle cx="154.0" cy="335.2" r="1.5"/><circle cx="155.2" cy="330.8" r="1.5"/><circle cx="156.1" cy="329.5" r="1.5"/><circle cx="157.2" cy="325.9" r="1.5"/><circle cx="158.3" cy="326.1" r="1.5"/><circle cx="159.5" cy="325.0" r="1.5"/><circle cx="160.5" cy="321.3" r="1.5"/><circle cx="161.8" cy="319.9" r="1.5"/><circle cx="162.9" cy="316.4" r="1.5"/><circle cx="164.0" cy="313.0" r="1.5"/><circle cx="165.0" cy="313.0" r="1.5"/><circle cx="166.0" cy="310.2" r="1.5"/><circle cx="167.0" cy="308.7" r="1.5"/><circle cx="168.1" cy="307.5" r="1.5"/><circle cx="169.3" cy="303.1" r="1.5"/><circle cx="170.3" cy="303.1" r="1.5"/><circle cx="171.4" cy="298.2" r="1.5"/><circle cx="172.7" cy="297.1" r="1.5"/><circle cx="173.6" cy="296.4" r="1.5"/><circle cx="174.6" cy="291.3" r="1.5"/><circle cx="175.5" cy="291.7" r="1.5"/><circle cx="176.8" cy="291.5" r="1.5"/><circle cx="177.9" cy="286.0" r="1.5"/><circle cx="178.7" cy="288.8" r="1.5"/><circle cx="180.1" cy="287.0" r="1.5"/><circle cx="181.2" cy="283.0" r="1.5"/><circle cx="182.1" cy="285.7" r="1.5"/><circle cx="183.2" cy="280.0" r="1.5"/><circle cx="184.3" cy="282.2" r="1.5"/><circle cx="185.5" cy="277.7" r="1.5"/><circle cx="186.6" cy="276.3" r="1.5"/><circle cx="187.6" cy="274.2" r="1.5"/><circle cx="188.7" cy="272.8" r="1.5"/><circle cx="189.6" cy="274.8" r="1.5"/><circle cx="190.7" cy="267.7" r="1.5"/><circle cx="191.7" cy="268.0" r="1.5"/><circle cx="192.8" cy="268.5" r="1.5"/><circle cx="193.8" cy="273.2" r="1.5"/><circle cx="195.2" cy="267.7" r="1.5"/><circle cx="196.0" cy="270.7" r="1.5"/><circle cx="197.3" cy="270.1" r="1.5"/><circle cx="198.6" cy="262.7" r="1.5"/><circle cx="199.6" cy="264.2" r="1.5"/><circle cx="200.4" cy="267.8" r="1.5"/><circle cx="201.6" cy="253.6" r="1.5"/><circle cx="202.6" cy="266.3" r="1.5"/><circle cx="203.6" cy="268.3" r="1.5"/><circle cx="205.0" cy="264.4" r="1.5"/><circle cx="205.9" cy="272.3" r="1.5"/><circle cx="206.8" cy="268.4" r="1.5"/><circle cx="208.0" cy="263.2" r="1.5"/></g>
<g fill="none" stroke="#1b9e77" stroke-width="0.7"><circle cx="49.6" cy="276.6" r="1.42"/><circle cx="50.9" cy="273.5" r="1.42"/><circle cx="51.8" cy="271.8" r="1.42"/><circle cx="52.8" cy="281.0" r="1.42"/><circle cx="53.4" cy="276.1" r="1.42"/><circle cx="54.4" cy="277.4" r="1.42"/><circle cx="55.3" cy="278.4" r="1.42"/><circle cx="56.5" cy="277.1" r="1.42"/><circle cx="57.1" cy="282.3" r="1.42"/><circle cx="57.9" cy="284.4" r="1.42"/><circle cx="59.3" cy="284.2" r="1.42"/><circle cx="60.1" cy="286.9" r="1.42"/><circle cx="60.8" cy="285.8" r="1.42"/><circle cx="61.7" cy="288.8" r="1.42"/><circle cx="62.8" cy="295.3" r="1.42"/><circle cx="63.7" cy="293.2" r="1.42"/><circle cx="64.5" cy="295.2" r="1.42"/><circle cx="65.9" cy="300.2" r="1.42"/><circle cx="66.5" cy="300.7" r="1.42"/><circle cx="67.2" cy="304.6" r="1.42"/><circle cx="68.0" cy="313.4" r="1.42"/><circle cx="69.3" cy="318.2" r="1.42"/><circle cx="70.2" cy="322.3" r="1.42"/><circle cx="70.8" cy="322.5" r="1.42"/><circle cx="72.1" cy="332.6" r="1.42"/><circle cx="72.9" cy="336.5" r="1.42"/><circle cx="73.6" cy="343.5" r="1.42"/><circle cx="74.9" cy="342.9" r="1.42"/><circle cx="76.0" cy="348.4" r="1.42"/><circle cx="77.2" cy="353.7" r="1.42"/><circle cx="77.9" cy="351.4" r="1.42"/><circle cx="78.5" cy="354.6" r="1.42"/><circle cx="79.3" cy="356.9" r="1.42"/><circle cx="80.7" cy="365.6" r="1.42"/><circle cx="81.1" cy="366.1" r="1.42"/><circle cx="82.2" cy="370.6" r="1.42"/><circle cx="83.2" cy="370.3" r="1.42"/><circle cx="84.0" cy="375.7" r="1.42"/><circle cx="85.0" cy="380.0" r="1.42"/><circle cx="86.5" cy="386.5" r="1.42"/><circle cx="87.2" cy="384.3" r="1.42"/><circle cx="88.4" cy="392.4" r="1.42"/><circle cx="89.2" cy="391.3" r="1.42"/><circle cx="89.7" cy="391.4" r="1.42"/><circle cx="91.0" cy="400.9" r="1.42"/><circle cx="91.4" cy="404.3" r="1.42"/><circle cx="92.6" cy="404.5" r="1.42"/><circle cx="93.8" cy="413.3" r="1.42"/><circle cx="94.2" cy="409.2" r="1.42"/><circle cx="95.5" cy="411.8" r="1.42"/><circle cx="96.7" cy="409.4" r="1.42"/><circle cx="97.5" cy="411.6" r="1.42"/><circle cx="98.1" cy="415.4" r="1.42"/><circle cx="99.5" cy="416.8" r="1.42"/><circle cx="100.2" cy="420.3" r="1.42"/><circle cx="100.8" cy="421.4" r="1.42"/><circle cx="102.3" cy="422.3" r="1.42"/><circle cx="102.8" cy="421.2" r="1.42"/><circle cx="104.1" cy="426.1" r="1.42"/><circle cx="105.2" cy="425.2" r="1.42"/><circle cx="105.8" cy="428.3" r="1.42"/><circle cx="107.1" cy="431.9" r="1.42"/><circle cx="107.2" cy="428.8" r="1.42"/><circle cx="108.6" cy="428.2" r="1.42"/><circle cx="109.9" cy="430.3" r="1.42"/><circle cx="110.2" cy="431.2" r="1.42"/><circle cx="111.7" cy="431.1" r="1.42"/><circle cx="112.3" cy="432.0" r="1.42"/><circle cx="113.0" cy="428.3" r="1.42"/><circle cx="114.5" cy="430.4" r="1.42"/><circle cx="115.2" cy="425.7" r="1.42"/><circle cx="115.8" cy="425.7" r="1.42"/><circle cx="117.4" cy="425.2" r="1.42"/><circle cx="117.7" cy="424.6" r="1.42"/><circle cx="118.8" cy="425.7" r="1.42"/><circle cx="119.7" cy="420.3" r="1.42"/><circle cx="120.6" cy="416.0" r="1.42"/><circle cx="121.6" cy="417.2" r="1.42"/><circle cx="122.2" cy="422.6" r="1.42"/><circle cx="123.2" cy="412.3" r="1.42"/><circle cx="124.2" cy="412.9" r="1.42"/><circle cx="125.3" cy="411.5" r="1.42"/><circle cx="126.4" cy="407.8" r="1.42"/><circle cx="127.4" cy="402.7" r="1.42"/><circle cx="128.7" cy="402.5" r="1.42"/><circle cx="129.3" cy="401.9" r="1.42"/><circle cx="130.4" cy="396.8" r="1.42"/><circle cx="131.2" cy="400.9" r="1.42"/><circle cx="132.1" cy="397.4" r="1.42"/><circle cx="133.2" cy="392.5" r="1.42"/><circle cx="134.2" cy="388.7" r="1.42"/><circle cx="134.6" cy="392.4" r="1.42"/><circle cx="136.0" cy="388.6" r="1.42"/><circle cx="136.8" cy="389.6" r="1.42"/><circle cx="137.5" cy="387.7" r="1.42"/><circle cx="138.2" cy="384.8" r="1.42"/><circle cx="139.4" cy="384.0" r="1.42"/><circle cx="140.4" cy="371.7" r="1.42"/><circle cx="141.3" cy="375.5" r="1.42"/><circle cx="142.2" cy="371.3" r="1.42"/><circle cx="142.9" cy="366.2" r="1.42"/><circle cx="144.1" cy="367.3" r="1.42"/><circle cx="145.1" cy="366.8" r="1.42"/><circle cx="145.8" cy="364.2" r="1.42"/><circle cx="146.6" cy="362.0" r="1.42"/><circle cx="148.1" cy="355.8" r="1.42"/><circle cx="148.9" cy="353.8" r="1.42"/><circle cx="150.2" cy="353.6" r="1.42"/><circle cx="150.8" cy="349.9" r="1.42"/><circle cx="151.7" cy="348.3" r="1.42"/><circle cx="153.0" cy="348.4" r="1.42"/><circle cx="153.5" cy="341.6" r="1.42"/><circle cx="154.8" cy="339.2" r="1.42"/><circle cx="155.8" cy="338.5" r="1.42"/><circle cx="156.2" cy="338.8" r="1.42"/><circle cx="157.0" cy="336.6" r="1.42"/><circle cx="158.0" cy="335.5" r="1.42"/><circle cx="159.1" cy="334.5" r="1.42"/><circle cx="159.8" cy="335.1" r="1.42"/><circle cx="161.2" cy="331.5" r="1.42"/><circle cx="161.7" cy="328.2" r="1.42"/><circle cx="163.0" cy="331.0" r="1.42"/><circle cx="163.5" cy="322.3" r="1.42"/><circle cx="164.6" cy="326.1" r="1.42"/><circle cx="165.4" cy="319.0" r="1.42"/><circle cx="167.0" cy="314.3" r="1.42"/><circle cx="167.7" cy="314.2" r="1.42"/><circle cx="168.4" cy="315.3" r="1.42"/><circle cx="169.7" cy="313.9" r="1.42"/><circle cx="170.6" cy="313.0" r="1.42"/><circle cx="171.2" cy="307.8" r="1.42"/><circle cx="171.9" cy="308.1" r="1.42"/><circle cx="173.3" cy="308.1" r="1.42"/><circle cx="174.2" cy="302.9" r="1.42"/><circle cx="174.9" cy="304.6" r="1.42"/><circle cx="176.4" cy="301.8" r="1.42"/><circle cx="177.0" cy="300.1" r="1.42"/><circle cx="178.0" cy="299.4" r="1.42"/><circle cx="179.0" cy="298.2" r="1.42"/><circle cx="179.5" cy="296.1" r="1.42"/><circle cx="180.4" cy="295.4" r="1.42"/><circle cx="181.9" cy="294.7" r="1.42"/><circle cx="182.5" cy="296.0" r="1.42"/><circle cx="183.6" cy="292.5" r="1.42"/><circle cx="184.6" cy="292.3" r="1.42"/><circle cx="185.6" cy="290.7" r="1.42"/><circle cx="186.1" cy="289.8" r="1.42"/><circle cx="187.5" cy="291.1" r="1.42"/><circle cx="188.0" cy="285.7" r="1.42"/><circle cx="189.1" cy="298.9" r="1.42"/><circle cx="189.9" cy="296.1" r="1.42"/><circle cx="190.7" cy="285.3" r="1.42"/><circle cx="191.5" cy="289.8" r="1.42"/><circle cx="193.1" cy="279.7" r="1.42"/><circle cx="193.7" cy="276.5" r="1.42"/><circle cx="195.0" cy="279.1" r="1.42"/><circle cx="195.3" cy="275.9" r="1.42"/><circle cx="196.2" cy="277.3" r="1.42"/><circle cx="197.6" cy="279.7" r="1.42"/><circle cx="198.9" cy="276.7" r="1.42"/><circle cx="199.3" cy="273.5" r="1.42"/><circle cx="200.6" cy="271.8" r="1.42"/><circle cx="201.7" cy="272.7" r="1.42"/><circle cx="202.5" cy="271.7" r="1.42"/><circle cx="203.0" cy="266.5" r="1.42"/><circle cx="204.2" cy="271.9" r="1.42"/><circle cx="204.9" cy="269.0" r="1.42"/><circle cx="205.8" cy="275.2" r="1.42"/><circle cx="207.3" cy="261.3" r="1.42"/><circle cx="207.5" cy="262.0" r="1.42"/><circle cx="208.9" cy="271.8" r="1.42"/><circle cx="209.4" cy="257.0" r="1.42"/><circle cx="210.7" cy="269.0" r="1.42"/><circle cx="212.0" cy="250.7" r="1.42"/><circle cx="212.5" cy="254.8" r="1.42"/></g>
<g fill="#e69f00"><circle cx="247.4" cy="277.2" r="1.5"/><circle cx="248.9" cy="280.1" r="1.5"/><circle cx="250.1" cy="280.1" r="1.5"/><circle cx="251.6" cy="277.0" r="1.5"/><circle cx="252.9" cy="281.9" r="1.5"/><circle cx="253.9" cy="281.3" r="1.5"/><circle cx="255.7" cy="281.5" r="1.5"/><circle cx="257.0" cy="282.5" r="1.5"/><circle cx="258.2" cy="283.5" r="1.5"/><circle cx="259.3" cy="288.8" r="1.5"/><circle cx="260.9" cy="286.8" r="1.5"/><circle cx="262.1" cy="290.7" r="1.5"/><circle cx="263.6" cy="295.8" r="1.5"/><circle cx="264.9" cy="295.0" r="1.5"/><circle cx="266.4" cy="301.5" r="1.5"/><circle cx="267.7" cy="307.4" r="1.5"/><circle cx="269.1" cy="304.4" r="1.5"/><circle cx="270.4" cy="312.9" r="1.5"/><circle cx="271.7" cy="316.8" r="1.5"/><circle cx="273.2" cy="323.3" r="1.5"/><circle cx="274.1" cy="329.2" r="1.5"/><circle cx="275.7" cy="333.1" r="1.5"/><circle cx="277.1" cy="340.4" r="1.5"/><circle cx="278.2" cy="344.1" r="1.5"/><circle cx="279.6" cy="347.9" r="1.5"/><circle cx="281.0" cy="348.4" r="1.5"/><circle cx="282.2" cy="357.3" r="1.5"/><circle cx="283.6" cy="359.6" r="1.5"/><circle cx="285.0" cy="365.2" r="1.5"/><circle cx="286.4" cy="368.1" r="1.5"/><circle cx="287.7" cy="372.3" r="1.5"/><circle cx="289.1" cy="375.9" r="1.5"/><circle cx="290.3" cy="381.3" r="1.5"/><circle cx="292.0" cy="389.3" r="1.5"/><circle cx="293.2" cy="388.4" r="1.5"/><circle cx="294.7" cy="393.4" r="1.5"/><circle cx="296.0" cy="395.6" r="1.5"/><circle cx="297.2" cy="401.9" r="1.5"/><circle cx="298.7" cy="404.4" r="1.5"/><circle cx="299.8" cy="408.7" r="1.5"/><circle cx="301.3" cy="407.2" r="1.5"/><circle cx="302.5" cy="414.1" r="1.5"/><circle cx="304.1" cy="418.3" r="1.5"/><circle cx="305.0" cy="418.6" r="1.5"/><circle cx="306.6" cy="423.3" r="1.5"/><circle cx="308.2" cy="423.5" r="1.5"/><circle cx="309.1" cy="423.1" r="1.5"/><circle cx="310.7" cy="426.2" r="1.5"/><circle cx="312.0" cy="430.3" r="1.5"/><circle cx="313.5" cy="428.0" r="1.5"/><circle cx="314.8" cy="428.9" r="1.5"/><circle cx="316.3" cy="432.5" r="1.5"/><circle cx="317.6" cy="433.4" r="1.5"/><circle cx="318.7" cy="429.6" r="1.5"/><circle cx="320.0" cy="434.0" r="1.5"/><circle cx="321.4" cy="433.2" r="1.5"/><circle cx="322.6" cy="436.0" r="1.5"/><circle cx="324.3" cy="437.6" r="1.5"/><circle cx="325.6" cy="436.7" r="1.5"/><circle cx="327.0" cy="435.7" r="1.5"/><circle cx="327.9" cy="435.3" r="1.5"/><circle cx="329.5" cy="439.1" r="1.5"/><circle cx="331.0" cy="435.3" r="1.5"/><circle cx="332.3" cy="436.6" r="1.5"/><circle cx="333.4" cy="433.1" r="1.5"/><circle cx="335.1" cy="433.0" r="1.5"/><circle cx="336.1" cy="436.5" r="1.5"/><circle cx="337.7" cy="432.7" r="1.5"/><circle cx="339.2" cy="434.2" r="1.5"/><circle cx="340.5" cy="431.8" r="1.5"/><circle cx="341.7" cy="433.5" r="1.5"/><circle cx="343.2" cy="427.0" r="1.5"/><circle cx="344.4" cy="425.4" r="1.5"/><circle cx="345.7" cy="426.0" r="1.5"/><circle cx="347.1" cy="423.8" r="1.5"/><circle cx="348.5" cy="423.0" r="1.5"/><circle cx="349.6" cy="420.5" r="1.5"/><circle cx="350.8" cy="422.3" r="1.5"/><circle cx="352.6" cy="422.5" r="1.5"/><circle cx="353.7" cy="417.3" r="1.5"/><circle cx="355.3" cy="416.0" r="1.5"/><circle cx="356.4" cy="411.7" r="1.5"/><circle cx="357.6" cy="412.1" r="1.5"/><circle cx="359.0" cy="408.4" r="1.5"/><circle cx="360.5" cy="407.2" r="1.5"/><circle cx="362.0" cy="402.6" r="1.5"/><circle cx="363.0" cy="403.4" r="1.5"/><circle cx="364.4" cy="403.1" r="1.5"/><circle cx="365.8" cy="401.1" r="1.5"/><circle cx="367.3" cy="397.2" r="1.5"/><circle cx="368.4" cy="393.1" r="1.5"/><circle cx="370.1" cy="392.8" r="1.5"/><circle cx="371.0" cy="394.1" r="1.5"/><circle cx="372.8" cy="387.6" r="1.5"/><circle cx="373.9" cy="387.5" r="1.5"/><circle cx="375.1" cy="388.0" r="1.5"/><circle cx="376.7" cy="385.7" r="1.5"/><circle cx="377.9" cy="384.2" r="1.5"/><circle cx="379.2" cy="380.2" r="1.5"/><circle cx="380.9" cy="374.5" r="1.5"/><circle cx="382.3" cy="375.6" r="1.5"/><circle cx="383.3" cy="373.4" r="1.5"/><circle cx="384.7" cy="371.9" r="1.5"/><circle cx="385.9" cy="372.6" r="1.5"/><circle cx="387.5" cy="366.9" r="1.5"/><circle cx="388.7" cy="366.2" r="1.5"/><circle cx="390.1" cy="362.5" r="1.5"/><circle cx="391.3" cy="360.3" r="1.5"/><circle cx="392.8" cy="356.1" r="1.5"/><circle cx="394.1" cy="355.7" r="1.5"/><circle cx="395.3" cy="351.9" r="1.5"/><circle cx="396.7" cy="354.6" r="1.5"/><circle cx="398.4" cy="350.2" r="1.5"/><circle cx="399.7" cy="343.5" r="1.5"/><circle cx="401.0" cy="346.1" r="1.5"/><circle cx="402.3" cy="341.5" r="1.5"/><circle cx="403.3" cy="340.5" r="1.5"/><circle cx="405.1" cy="338.6" r="1.5"/><circle cx="406.1" cy="338.9" r="1.5"/><circle cx="407.5" cy="333.1" r="1.5"/><circle cx="409.2" cy="329.6" r="1.5"/><circle cx="410.2" cy="329.1" r="1.5"/><circle cx="411.6" cy="327.7" r="1.5"/><circle cx="413.2" cy="324.8" r="1.5"/><circle cx="414.1" cy="325.7" r="1.5"/><circle cx="415.5" cy="320.2" r="1.5"/><circle cx="417.0" cy="317.0" r="1.5"/><circle cx="418.6" cy="314.3" r="1.5"/><circle cx="419.7" cy="316.8" r="1.5"/><circle cx="421.2" cy="312.2" r="1.5"/><circle cx="422.4" cy="310.3" r="1.5"/><circle cx="423.8" cy="308.5" r="1.5"/><circle cx="424.8" cy="306.0" r="1.5"/><circle cx="426.7" cy="306.4" r="1.5"/><circle cx="428.1" cy="308.0" r="1.5"/><circle cx="429.1" cy="303.1" r="1.5"/><circle cx="430.7" cy="303.0" r="1.5"/><circle cx="432.0" cy="299.8" r="1.5"/><circle cx="433.0" cy="298.8" r="1.5"/><circle cx="434.6" cy="297.6" r="1.5"/><circle cx="436.1" cy="295.8" r="1.5"/><circle cx="437.4" cy="295.1" r="1.5"/><circle cx="438.8" cy="293.1" r="1.5"/><circle cx="439.9" cy="290.7" r="1.5"/><circle cx="441.3" cy="290.0" r="1.5"/><circle cx="442.8" cy="291.5" r="1.5"/><circle cx="443.8" cy="287.9" r="1.5"/><circle cx="445.2" cy="285.3" r="1.5"/><circle cx="446.4" cy="286.4" r="1.5"/><circle cx="448.0" cy="283.0" r="1.5"/><circle cx="449.3" cy="281.7" r="1.5"/></g>
<g fill="none" stroke="#1b9e77" stroke-width="0.7"><circle cx="247.8" cy="288.7" r="1.42"/><circle cx="248.3" cy="284.8" r="1.42"/><circle cx="249.8" cy="282.9" r="1.42"/><circle cx="250.8" cy="285.3" r="1.42"/><circle cx="252.2" cy="282.0" r="1.42"/><circle cx="253.1" cy="282.9" r="1.42"/><circle cx="254.9" cy="286.4" r="1.42"/><circle cx="255.6" cy="283.6" r="1.42"/><circle cx="256.8" cy="285.9" r="1.42"/><circle cx="257.8" cy="289.3" r="1.42"/><circle cx="258.8" cy="289.1" r="1.42"/><circle cx="260.6" cy="290.7" r="1.42"/><circle cx="261.7" cy="287.1" r="1.42"/><circle cx="262.7" cy="296.8" r="1.42"/><circle cx="263.7" cy="290.8" r="1.42"/><circle cx="265.3" cy="293.9" r="1.42"/><circle cx="266.2" cy="297.6" r="1.42"/><circle cx="266.8" cy="299.2" r="1.42"/><circle cx="268.5" cy="304.7" r="1.42"/><circle cx="269.2" cy="303.1" r="1.42"/><circle cx="271.1" cy="312.2" r="1.42"/><circle cx="271.9" cy="315.0" r="1.42"/><circle cx="272.9" cy="319.4" r="1.42"/><circle cx="273.9" cy="318.9" r="1.42"/><circle cx="275.9" cy="326.6" r="1.42"/><circle cx="276.3" cy="325.9" r="1.42"/><circle cx="278.1" cy="331.6" r="1.42"/><circle cx="279.4" cy="339.3" r="1.42"/><circle cx="279.8" cy="335.9" r="1.42"/><circle cx="281.7" cy="343.9" r="1.42"/><circle cx="281.9" cy="345.4" r="1.42"/><circle cx="283.8" cy="345.4" r="1.42"/><circle cx="284.5" cy="350.8" r="1.42"/><circle cx="285.6" cy="357.0" r="1.42"/><circle cx="287.2" cy="360.8" r="1.42"/><circle cx="287.9" cy="360.2" r="1.42"/><circle cx="289.8" cy="368.8" r="1.42"/><circle cx="290.2" cy="367.0" r="1.42"/><circle cx="291.6" cy="379.2" r="1.42"/><circle cx="292.4" cy="377.4" r="1.42"/><circle cx="293.8" cy="376.2" r="1.42"/><circle cx="295.3" cy="380.2" r="1.42"/><circle cx="296.7" cy="384.4" r="1.42"/><circle cx="297.5" cy="388.6" r="1.42"/><circle cx="299.1" cy="393.2" r="1.42"/><circle cx="299.5" cy="386.3" r="1.42"/><circle cx="301.6" cy="402.1" r="1.42"/><circle cx="302.3" cy="400.9" r="1.42"/><circle cx="303.7" cy="402.0" r="1.42"/><circle cx="304.6" cy="405.6" r="1.42"/><circle cx="305.7" cy="410.1" r="1.42"/><circle cx="307.3" cy="416.2" r="1.42"/><circle cx="307.7" cy="416.4" r="1.42"/><circle cx="308.9" cy="418.6" r="1.42"/><circle cx="310.8" cy="418.2" r="1.42"/><circle cx="311.3" cy="423.7" r="1.42"/><circle cx="312.9" cy="425.8" r="1.42"/><circle cx="314.4" cy="430.0" r="1.42"/><circle cx="315.3" cy="422.9" r="1.42"/><circle cx="315.8" cy="429.3" r="1.42"/><circle cx="317.2" cy="426.9" r="1.42"/><circle cx="318.9" cy="428.8" r="1.42"/><circle cx="319.6" cy="427.4" r="1.42"/><circle cx="320.5" cy="432.9" r="1.42"/><circle cx="322.2" cy="433.6" r="1.42"/><circle cx="323.6" cy="435.2" r="1.42"/><circle cx="323.9" cy="434.4" r="1.42"/><circle cx="325.6" cy="429.9" r="1.42"/><circle cx="326.4" cy="430.6" r="1.42"/><circle cx="328.0" cy="433.6" r="1.42"/><circle cx="329.3" cy="430.2" r="1.42"/><circle cx="329.9" cy="429.2" r="1.42"/><circle cx="331.3" cy="426.8" r="1.42"/><circle cx="333.0" cy="428.5" r="1.42"/><circle cx="333.4" cy="432.0" r="1.42"/><circle cx="334.5" cy="428.3" r="1.42"/><circle cx="336.1" cy="428.6" r="1.42"/><circle cx="337.3" cy="424.8" r="1.42"/><circle cx="338.1" cy="424.4" r="1.42"/><circle cx="339.7" cy="427.1" r="1.42"/><circle cx="340.5" cy="424.3" r="1.42"/><circle cx="341.8" cy="422.7" r="1.42"/><circle cx="342.8" cy="421.0" r="1.42"/><circle cx="344.7" cy="425.6" r="1.42"/><circle cx="344.9" cy="420.5" r="1.42"/><circle cx="347.1" cy="422.8" r="1.42"/><circle cx="347.9" cy="417.7" r="1.42"/><circle cx="349.2" cy="416.4" r="1.42"/><circle cx="349.7" cy="412.6" r="1.42"/><circle cx="351.0" cy="412.7" r="1.42"/><circle cx="352.5" cy="412.8" r="1.42"/><circle cx="353.4" cy="411.4" r="1.42"/><circle cx="354.9" cy="411.0" r="1.42"/><circle cx="355.7" cy="412.8" r="1.42"/><circle cx="357.3" cy="409.7" r="1.42"/><circle cx="357.8" cy="406.7" r="1.42"/><circle cx="360.0" cy="401.1" r="1.42"/><circle cx="360.1" cy="406.7" r="1.42"/><circle cx="362.1" cy="404.1" r="1.42"/><circle cx="362.8" cy="399.9" r="1.42"/><circle cx="364.6" cy="401.2" r="1.42"/><circle cx="364.8" cy="396.3" r="1.42"/><circle cx="366.4" cy="397.2" r="1.42"/><circle cx="367.2" cy="394.9" r="1.42"/><circle cx="369.0" cy="388.3" r="1.42"/><circle cx="369.6" cy="391.9" r="1.42"/><circle cx="370.8" cy="388.2" r="1.42"/><circle cx="372.0" cy="390.5" r="1.42"/><circle cx="374.0" cy="378.6" r="1.42"/><circle cx="374.9" cy="385.4" r="1.42"/><circle cx="376.1" cy="380.5" r="1.42"/><circle cx="377.4" cy="378.9" r="1.42"/><circle cx="377.8" cy="381.7" r="1.42"/><circle cx="379.4" cy="373.7" r="1.42"/><circle cx="380.0" cy="378.6" r="1.42"/><circle cx="381.9" cy="373.4" r="1.42"/><circle cx="383.3" cy="369.4" r="1.42"/><circle cx="384.2" cy="369.3" r="1.42"/><circle cx="385.5" cy="368.7" r="1.42"/><circle cx="386.8" cy="362.4" r="1.42"/><circle cx="387.8" cy="366.2" r="1.42"/><circle cx="389.0" cy="364.6" r="1.42"/><circle cx="390.2" cy="362.1" r="1.42"/><circle cx="391.3" cy="357.6" r="1.42"/><circle cx="392.6" cy="358.3" r="1.42"/><circle cx="393.3" cy="354.6" r="1.42"/><circle cx="395.0" cy="353.4" r="1.42"/><circle cx="396.0" cy="351.5" r="1.42"/><circle cx="396.5" cy="346.1" r="1.42"/><circle cx="397.7" cy="350.4" r="1.42"/><circle cx="399.1" cy="345.9" r="1.42"/><circle cx="400.8" cy="345.2" r="1.42"/><circle cx="401.4" cy="346.2" r="1.42"/><circle cx="403.0" cy="339.3" r="1.42"/><circle cx="404.3" cy="341.5" r="1.42"/><circle cx="405.3" cy="337.2" r="1.42"/><circle cx="406.3" cy="334.4" r="1.42"/><circle cx="407.7" cy="334.7" r="1.42"/><circle cx="408.8" cy="328.8" r="1.42"/><circle cx="410.0" cy="327.2" r="1.42"/><circle cx="410.3" cy="329.4" r="1.42"/><circle cx="411.6" cy="326.8" r="1.42"/><circle cx="413.3" cy="327.6" r="1.42"/><circle cx="414.3" cy="324.8" r="1.42"/><circle cx="415.3" cy="321.2" r="1.42"/><circle cx="417.0" cy="321.7" r="1.42"/><circle cx="417.4" cy="321.1" r="1.42"/><circle cx="418.7" cy="318.6" r="1.42"/><circle cx="420.3" cy="318.1" r="1.42"/><circle cx="421.7" cy="311.3" r="1.42"/><circle cx="422.0" cy="311.0" r="1.42"/><circle cx="424.0" cy="309.9" r="1.42"/><circle cx="425.3" cy="307.2" r="1.42"/><circle cx="425.8" cy="307.4" r="1.42"/><circle cx="427.3" cy="301.3" r="1.42"/><circle cx="428.7" cy="306.3" r="1.42"/><circle cx="430.0" cy="300.8" r="1.42"/><circle cx="430.7" cy="300.0" r="1.42"/><circle cx="432.2" cy="299.8" r="1.42"/><circle cx="432.6" cy="299.2" r="1.42"/><circle cx="433.8" cy="297.8" r="1.42"/><circle cx="435.8" cy="299.5" r="1.42"/><circle cx="436.2" cy="293.7" r="1.42"/><circle cx="437.5" cy="291.0" r="1.42"/><circle cx="439.2" cy="289.6" r="1.42"/><circle cx="440.0" cy="294.3" r="1.42"/><circle cx="441.6" cy="284.8" r="1.42"/><circle cx="442.5" cy="284.6" r="1.42"/><circle cx="443.4" cy="284.9" r="1.42"/><circle cx="445.2" cy="286.6" r="1.42"/><circle cx="446.0" cy="280.7" r="1.42"/><circle cx="446.9" cy="285.8" r="1.42"/><circle cx="448.6" cy="280.7" r="1.42"/><circle cx="449.3" cy="283.6" r="1.42"/></g>
<g fill="#e69f00"><circle cx="480.5" cy="285.9" r="1.5"/><circle cx="481.6" cy="283.8" r="1.5"/><circle cx="482.3" cy="284.2" r="1.5"/><circle cx="483.3" cy="283.8" r="1.5"/><circle cx="484.2" cy="281.9" r="1.5"/><circle cx="485.1" cy="283.7" r="1.5"/><circle cx="486.0" cy="285.1" r="1.5"/><circle cx="486.9" cy="288.2" r="1.5"/><circle cx="487.9" cy="289.2" r="1.5"/><circle cx="489.0" cy="291.1" r="1.5"/><circle cx="489.9" cy="295.1" r="1.5"/><circle cx="490.7" cy="294.2" r="1.5"/><circle cx="491.6" cy="300.0" r="1.5"/><circle cx="492.5" cy="302.7" r="1.5"/><circle cx="493.7" cy="307.4" r="1.5"/><circle cx="494.4" cy="307.6" r="1.5"/><circle cx="495.3" cy="316.0" r="1.5"/><circle cx="496.4" cy="318.0" r="1.5"/><circle cx="497.5" cy="321.8" r="1.5"/><circle cx="498.4" cy="329.0" r="1.5"/><circle cx="499.3" cy="333.0" r="1.5"/><circle cx="500.2" cy="337.7" r="1.5"/><circle cx="501.1" cy="342.3" r="1.5"/><circle cx="501.9" cy="347.8" r="1.5"/><circle cx="502.9" cy="352.7" r="1.5"/><circle cx="503.9" cy="359.4" r="1.5"/><circle cx="504.7" cy="361.2" r="1.5"/><circle cx="505.9" cy="366.2" r="1.5"/><circle cx="506.8" cy="369.6" r="1.5"/><circle cx="507.7" cy="377.1" r="1.5"/><circle cx="508.5" cy="379.5" r="1.5"/><circle cx="509.4" cy="381.2" r="1.5"/><circle cx="510.3" cy="384.8" r="1.5"/><circle cx="511.3" cy="386.7" r="1.5"/><circle cx="512.4" cy="394.2" r="1.5"/><circle cx="513.4" cy="394.3" r="1.5"/><circle cx="514.1" cy="398.6" r="1.5"/><circle cx="515.2" cy="398.4" r="1.5"/><circle cx="515.9" cy="401.6" r="1.5"/><circle cx="516.8" cy="405.8" r="1.5"/><circle cx="518.1" cy="408.3" r="1.5"/><circle cx="519.0" cy="411.7" r="1.5"/><circle cx="519.7" cy="412.0" r="1.5"/><circle cx="520.8" cy="416.7" r="1.5"/><circle cx="521.8" cy="418.0" r="1.5"/><circle cx="522.6" cy="419.7" r="1.5"/><circle cx="523.4" cy="421.5" r="1.5"/><circle cx="524.5" cy="423.2" r="1.5"/><circle cx="525.5" cy="423.0" r="1.5"/><circle cx="526.3" cy="424.8" r="1.5"/><circle cx="527.4" cy="423.5" r="1.5"/><circle cx="528.3" cy="427.6" r="1.5"/><circle cx="529.3" cy="426.1" r="1.5"/><circle cx="530.3" cy="429.1" r="1.5"/><circle cx="531.0" cy="430.0" r="1.5"/><circle cx="532.0" cy="430.6" r="1.5"/><circle cx="533.1" cy="431.3" r="1.5"/><circle cx="534.0" cy="431.0" r="1.5"/><circle cx="534.8" cy="431.0" r="1.5"/><circle cx="535.6" cy="430.0" r="1.5"/><circle cx="536.8" cy="431.5" r="1.5"/><circle cx="537.6" cy="431.3" r="1.5"/><circle cx="538.4" cy="432.0" r="1.5"/><circle cx="539.6" cy="431.8" r="1.5"/><circle cx="540.5" cy="432.8" r="1.5"/><circle cx="541.2" cy="432.8" r="1.5"/><circle cx="542.2" cy="433.1" r="1.5"/><circle cx="543.2" cy="433.1" r="1.5"/><circle cx="544.0" cy="434.6" r="1.5"/><circle cx="545.2" cy="434.7" r="1.5"/><circle cx="545.9" cy="432.2" r="1.5"/><circle cx="546.9" cy="431.6" r="1.5"/><circle cx="547.8" cy="432.0" r="1.5"/><circle cx="548.9" cy="428.4" r="1.5"/><circle cx="549.8" cy="433.0" r="1.5"/><circle cx="550.9" cy="431.2" r="1.5"/><circle cx="551.6" cy="430.5" r="1.5"/><circle cx="552.7" cy="429.2" r="1.5"/><circle cx="553.4" cy="429.6" r="1.5"/><circle cx="554.6" cy="425.5" r="1.5"/><circle cx="555.3" cy="425.6" r="1.5"/><circle cx="556.2" cy="426.9" r="1.5"/><circle cx="557.4" cy="423.8" r="1.5"/><circle cx="558.1" cy="424.2" r="1.5"/><circle cx="559.0" cy="425.5" r="1.5"/><circle cx="560.2" cy="423.8" r="1.5"/><circle cx="561.0" cy="421.6" r="1.5"/><circle cx="562.1" cy="420.1" r="1.5"/><circle cx="562.7" cy="422.6" r="1.5"/><circle cx="563.9" cy="422.7" r="1.5"/><circle cx="564.9" cy="421.2" r="1.5"/><circle cx="565.6" cy="416.5" r="1.5"/><circle cx="566.5" cy="420.0" r="1.5"/><circle cx="567.5" cy="417.7" r="1.5"/><circle cx="568.4" cy="414.6" r="1.5"/><circle cx="569.3" cy="414.5" r="1.5"/><circle cx="570.3" cy="410.4" r="1.5"/><circle cx="571.3" cy="410.7" r="1.5"/><circle cx="572.1" cy="413.4" r="1.5"/><circle cx="573.3" cy="407.9" r="1.5"/><circle cx="574.2" cy="413.1" r="1.5"/><circle cx="575.1" cy="406.2" r="1.5"/><circle cx="576.0" cy="406.4" r="1.5"/><circle cx="576.9" cy="403.4" r="1.5"/><circle cx="577.9" cy="403.0" r="1.5"/><circle cx="578.7" cy="400.2" r="1.5"/><circle cx="579.8" cy="400.5" r="1.5"/><circle cx="580.8" cy="396.8" r="1.5"/><circle cx="581.8" cy="396.6" r="1.5"/><circle cx="582.6" cy="395.6" r="1.5"/><circle cx="583.3" cy="395.6" r="1.5"/><circle cx="584.5" cy="392.9" r="1.5"/><circle cx="585.3" cy="390.3" r="1.5"/><circle cx="586.4" cy="387.0" r="1.5"/><circle cx="587.1" cy="389.7" r="1.5"/><circle cx="588.1" cy="384.5" r="1.5"/><circle cx="589.0" cy="382.0" r="1.5"/><circle cx="589.8" cy="380.9" r="1.5"/><circle cx="590.8" cy="380.6" r="1.5"/><circle cx="591.7" cy="377.7" r="1.5"/><circle cx="592.8" cy="376.8" r="1.5"/><circle cx="593.7" cy="372.6" r="1.5"/><circle cx="594.6" cy="376.2" r="1.5"/><circle cx="595.7" cy="368.7" r="1.5"/><circle cx="596.7" cy="369.7" r="1.5"/><circle cx="597.6" cy="368.5" r="1.5"/><circle cx="598.5" cy="362.7" r="1.5"/><circle cx="599.2" cy="367.5" r="1.5"/><circle cx="600.3" cy="364.8" r="1.5"/><circle cx="601.2" cy="364.8" r="1.5"/><circle cx="602.2" cy="358.5" r="1.5"/><circle cx="603.0" cy="360.1" r="1.5"/><circle cx="604.2" cy="356.1" r="1.5"/><circle cx="605.1" cy="353.4" r="1.5"/><circle cx="605.8" cy="352.3" r="1.5"/><circle cx="606.9" cy="355.7" r="1.5"/><circle cx="607.8" cy="350.8" r="1.5"/><circle cx="608.6" cy="353.8" r="1.5"/><circle cx="609.8" cy="349.1" r="1.5"/><circle cx="610.6" cy="346.8" r="1.5"/><circle cx="611.7" cy="342.7" r="1.5"/><circle cx="612.4" cy="340.2" r="1.5"/><circle cx="613.4" cy="346.0" r="1.5"/><circle cx="614.3" cy="341.8" r="1.5"/><circle cx="615.2" cy="343.3" r="1.5"/><circle cx="616.1" cy="339.5" r="1.5"/><circle cx="617.0" cy="334.7" r="1.5"/><circle cx="618.1" cy="338.2" r="1.5"/><circle cx="618.9" cy="334.7" r="1.5"/><circle cx="620.1" cy="330.9" r="1.5"/><circle cx="621.0" cy="332.0" r="1.5"/><circle cx="621.7" cy="329.3" r="1.5"/><circle cx="622.9" cy="330.8" r="1.5"/><circle cx="623.8" cy="330.8" r="1.5"/><circle cx="624.5" cy="324.5" r="1.5"/><circle cx="625.4" cy="330.0" r="1.5"/><circle cx="626.7" cy="324.8" r="1.5"/><circle cx="627.6" cy="327.4" r="1.5"/><circle cx="628.4" cy="322.8" r="1.5"/><circle cx="629.2" cy="323.6" r="1.5"/><circle cx="630.2" cy="323.4" r="1.5"/><circle cx="631.2" cy="319.0" r="1.5"/><circle cx="632.1" cy="315.8" r="1.5"/><circle cx="633.1" cy="317.6" r="1.5"/><circle cx="633.8" cy="315.3" r="1.5"/><circle cx="634.9" cy="315.0" r="1.5"/><circle cx="635.8" cy="317.1" r="1.5"/><circle cx="636.7" cy="313.4" r="1.5"/><circle cx="637.8" cy="310.6" r="1.5"/><circle cx="638.8" cy="308.1" r="1.5"/><circle cx="639.7" cy="304.9" r="1.5"/><circle cx="640.7" cy="307.8" r="1.5"/><circle cx="641.4" cy="309.9" r="1.5"/><circle cx="642.6" cy="304.0" r="1.5"/><circle cx="643.5" cy="304.0" r="1.5"/><circle cx="644.3" cy="302.0" r="1.5"/><circle cx="645.3" cy="301.1" r="1.5"/><circle cx="646.2" cy="298.9" r="1.5"/><circle cx="647.2" cy="297.4" r="1.5"/><circle cx="648.2" cy="300.6" r="1.5"/><circle cx="648.9" cy="294.0" r="1.5"/><circle cx="649.8" cy="295.3" r="1.5"/><circle cx="650.9" cy="293.2" r="1.5"/><circle cx="651.7" cy="293.5" r="1.5"/><circle cx="652.6" cy="292.1" r="1.5"/><circle cx="653.5" cy="293.9" r="1.5"/><circle cx="654.5" cy="289.3" r="1.5"/><circle cx="655.5" cy="297.3" r="1.5"/><circle cx="656.5" cy="287.8" r="1.5"/><circle cx="657.6" cy="291.0" r="1.5"/><circle cx="658.4" cy="288.4" r="1.5"/><circle cx="659.1" cy="287.6" r="1.5"/><circle cx="660.3" cy="286.3" r="1.5"/><circle cx="661.3" cy="288.1" r="1.5"/><circle cx="662.1" cy="284.3" r="1.5"/><circle cx="663.0" cy="285.8" r="1.5"/><circle cx="663.8" cy="286.5" r="1.5"/><circle cx="665.0" cy="283.4" r="1.5"/><circle cx="666.0" cy="282.5" r="1.5"/><circle cx="666.9" cy="283.8" r="1.5"/><circle cx="667.9" cy="278.0" r="1.5"/><circle cx="668.6" cy="282.1" r="1.5"/><circle cx="669.6" cy="278.5" r="1.5"/><circle cx="670.6" cy="279.1" r="1.5"/><circle cx="671.3" cy="284.0" r="1.5"/><circle cx="672.3" cy="275.0" r="1.5"/><circle cx="673.4" cy="280.8" r="1.5"/><circle cx="674.3" cy="280.1" r="1.5"/><circle cx="675.2" cy="271.5" r="1.5"/><circle cx="676.1" cy="275.7" r="1.5"/><circle cx="677.2" cy="274.7" r="1.5"/><circle cx="678.1" cy="273.3" r="1.5"/><circle cx="678.9" cy="274.8" r="1.5"/><circle cx="679.9" cy="278.2" r="1.5"/><circle cx="680.8" cy="270.5" r="1.5"/><circle cx="681.8" cy="270.9" r="1.5"/><circle cx="682.7" cy="275.3" r="1.5"/><circle cx="683.6" cy="276.0" r="1.5"/></g>
<g fill="none" stroke="#1b9e77" stroke-width="0.7"><circle cx="480.6" cy="281.0" r="1.42"/><circle cx="481.3" cy="281.6" r="1.42"/><circle cx="481.8" cy="276.8" r="1.42"/><circle cx="482.9" cy="279.5" r="1.42"/><circle cx="483.7" cy="282.6" r="1.42"/><circle cx="484.4" cy="286.6" r="1.42"/><circle cx="485.5" cy="284.5" r="1.42"/><circle cx="485.9" cy="288.0" r="1.42"/><circle cx="487.3" cy="287.3" r="1.42"/><circle cx="487.6" cy="287.5" r="1.42"/><circle cx="489.0" cy="288.5" r="1.42"/><circle cx="489.7" cy="286.2" r="1.42"/><circle cx="490.5" cy="295.9" r="1.42"/><circle cx="490.7" cy="296.8" r="1.42"/><circle cx="491.6" cy="285.2" r="1.42"/><circle cx="492.3" cy="294.7" r="1.42"/><circle cx="493.2" cy="293.9" r="1.42"/><circle cx="494.1" cy="286.0" r="1.42"/><circle cx="495.3" cy="291.5" r="1.42"/><circle cx="496.2" cy="300.6" r="1.42"/><circle cx="496.6" cy="298.0" r="1.42"/><circle cx="497.8" cy="299.2" r="1.42"/><circle cx="498.1" cy="293.7" r="1.42"/><circle cx="499.0" cy="302.3" r="1.42"/><circle cx="500.2" cy="300.1" r="1.42"/><circle cx="500.5" cy="298.8" r="1.42"/><circle cx="501.8" cy="300.1" r="1.42"/><circle cx="502.1" cy="314.0" r="1.42"/><circle cx="503.5" cy="320.0" r="1.42"/><circle cx="504.1" cy="317.2" r="1.42"/><circle cx="505.0" cy="323.6" r="1.42"/><circle cx="505.4" cy="323.0" r="1.42"/><circle cx="506.2" cy="324.7" r="1.42"/><circle cx="507.2" cy="325.8" r="1.42"/><circle cx="507.8" cy="326.5" r="1.42"/><circle cx="509.2" cy="331.9" r="1.42"/><circle cx="510.0" cy="335.6" r="1.42"/><circle cx="510.7" cy="335.1" r="1.42"/><circle cx="511.2" cy="339.1" r="1.42"/><circle cx="512.5" cy="340.8" r="1.42"/><circle cx="513.0" cy="344.3" r="1.42"/><circle cx="514.0" cy="346.0" r="1.42"/><circle cx="514.9" cy="350.5" r="1.42"/><circle cx="515.3" cy="355.2" r="1.42"/><circle cx="516.1" cy="356.9" r="1.42"/><circle cx="517.1" cy="364.2" r="1.42"/><circle cx="518.2" cy="366.5" r="1.42"/><circle cx="518.4" cy="367.6" r="1.42"/><circle cx="519.2" cy="372.5" r="1.42"/><circle cx="520.3" cy="380.3" r="1.42"/><circle cx="521.1" cy="382.9" r="1.42"/><circle cx="522.0" cy="378.8" r="1.42"/><circle cx="523.1" cy="385.5" r="1.42"/><circle cx="523.9" cy="393.6" r="1.42"/><circle cx="524.6" cy="387.8" r="1.42"/><circle cx="525.3" cy="389.8" r="1.42"/><circle cx="526.3" cy="398.2" r="1.42"/><circle cx="526.6" cy="387.4" r="1.42"/><circle cx="528.0" cy="399.6" r="1.42"/><circle cx="528.3" cy="391.7" r="1.42"/><circle cx="529.1" cy="397.7" r="1.42"/><circle cx="529.8" cy="393.8" r="1.42"/><circle cx="530.8" cy="392.3" r="1.42"/><circle cx="532.0" cy="400.5" r="1.42"/><circle cx="532.7" cy="393.6" r="1.42"/><circle cx="533.5" cy="412.9" r="1.42"/><circle cx="534.0" cy="402.0" r="1.42"/><circle cx="534.6" cy="398.4" r="1.42"/><circle cx="535.5" cy="396.8" r="1.42"/><circle cx="536.4" cy="411.0" r="1.42"/><circle cx="537.6" cy="404.8" r="1.42"/><circle cx="538.4" cy="415.8" r="1.42"/><circle cx="539.0" cy="401.7" r="1.42"/><circle cx="539.7" cy="403.9" r="1.42"/><circle cx="540.7" cy="412.9" r="1.42"/><circle cx="541.8" cy="406.4" r="1.42"/><circle cx="542.0" cy="416.3" r="1.42"/><circle cx="543.1" cy="412.3" r="1.42"/><circle cx="544.2" cy="419.7" r="1.42"/><circle cx="544.8" cy="407.3" r="1.42"/><circle cx="545.8" cy="410.7" r="1.42"/><circle cx="546.2" cy="411.8" r="1.42"/><circle cx="547.4" cy="411.0" r="1.42"/><circle cx="548.1" cy="414.4" r="1.42"/><circle cx="549.1" cy="413.5" r="1.42"/><circle cx="549.7" cy="411.9" r="1.42"/><circle cx="550.5" cy="416.6" r="1.42"/><circle cx="551.0" cy="423.4" r="1.42"/><circle cx="551.8" cy="409.8" r="1.42"/><circle cx="552.6" cy="414.6" r="1.42"/><circle cx="553.4" cy="409.5" r="1.42"/><circle cx="554.5" cy="416.2" r="1.42"/><circle cx="555.4" cy="419.8" r="1.42"/><circle cx="555.9" cy="418.0" r="1.42"/><circle cx="556.5" cy="413.4" r="1.42"/><circle cx="557.6" cy="413.3" r="1.42"/><circle cx="558.2" cy="409.6" r="1.42"/><circle cx="559.7" cy="409.5" r="1.42"/><circle cx="560.3" cy="413.5" r="1.42"/><circle cx="560.7" cy="405.2" r="1.42"/><circle cx="561.4" cy="413.3" r="1.42"/><circle cx="562.7" cy="407.5" r="1.42"/><circle cx="563.3" cy="411.5" r="1.42"/><circle cx="564.5" cy="412.7" r="1.42"/><circle cx="564.9" cy="410.3" r="1.42"/><circle cx="566.1" cy="411.3" r="1.42"/><circle cx="566.4" cy="405.7" r="1.42"/><circle cx="567.6" cy="415.8" r="1.42"/><circle cx="568.1" cy="407.0" r="1.42"/><circle cx="569.4" cy="409.1" r="1.42"/><circle cx="569.6" cy="412.2" r="1.42"/><circle cx="570.8" cy="413.5" r="1.42"/><circle cx="571.3" cy="407.4" r="1.42"/><circle cx="572.7" cy="406.2" r="1.42"/><circle cx="573.0" cy="410.6" r="1.42"/><circle cx="573.7" cy="411.5" r="1.42"/><circle cx="574.4" cy="398.5" r="1.42"/><circle cx="575.3" cy="405.3" r="1.42"/><circle cx="576.7" cy="409.5" r="1.42"/><circle cx="576.9" cy="400.0" r="1.42"/><circle cx="578.2" cy="404.3" r="1.42"/><circle cx="578.8" cy="399.9" r="1.42"/><circle cx="579.3" cy="403.4" r="1.42"/><circle cx="580.3" cy="395.5" r="1.42"/><circle cx="581.2" cy="402.1" r="1.42"/><circle cx="581.8" cy="404.9" r="1.42"/><circle cx="582.7" cy="404.4" r="1.42"/><circle cx="583.8" cy="397.9" r="1.42"/><circle cx="584.5" cy="398.9" r="1.42"/><circle cx="585.4" cy="399.7" r="1.42"/><circle cx="586.4" cy="397.6" r="1.42"/><circle cx="586.9" cy="396.1" r="1.42"/><circle cx="587.5" cy="402.8" r="1.42"/><circle cx="588.3" cy="393.9" r="1.42"/><circle cx="589.1" cy="397.2" r="1.42"/><circle cx="590.0" cy="393.3" r="1.42"/><circle cx="590.9" cy="391.4" r="1.42"/><circle cx="591.7" cy="390.6" r="1.42"/><circle cx="592.6" cy="385.8" r="1.42"/><circle cx="593.1" cy="392.2" r="1.42"/><circle cx="594.0" cy="389.2" r="1.42"/><circle cx="595.3" cy="393.0" r="1.42"/><circle cx="596.2" cy="385.2" r="1.42"/><circle cx="597.0" cy="386.4" r="1.42"/><circle cx="597.5" cy="383.7" r="1.42"/><circle cx="598.6" cy="379.2" r="1.42"/><circle cx="598.9" cy="378.2" r="1.42"/><circle cx="600.2" cy="376.7" r="1.42"/><circle cx="600.7" cy="377.6" r="1.42"/><circle cx="601.5" cy="377.5" r="1.42"/><circle cx="602.2" cy="372.7" r="1.42"/><circle cx="603.1" cy="366.8" r="1.42"/><circle cx="603.7" cy="366.7" r="1.42"/><circle cx="604.6" cy="370.2" r="1.42"/><circle cx="605.3" cy="371.3" r="1.42"/><circle cx="606.1" cy="370.8" r="1.42"/><circle cx="607.2" cy="364.5" r="1.42"/><circle cx="607.9" cy="368.0" r="1.42"/><circle cx="608.9" cy="365.4" r="1.42"/><circle cx="609.4" cy="363.2" r="1.42"/><circle cx="610.7" cy="350.2" r="1.42"/><circle cx="611.6" cy="357.1" r="1.42"/><circle cx="612.0" cy="351.7" r="1.42"/><circle cx="612.7" cy="353.8" r="1.42"/><circle cx="613.8" cy="348.5" r="1.42"/><circle cx="614.3" cy="349.8" r="1.42"/><circle cx="615.0" cy="349.6" r="1.42"/><circle cx="615.9" cy="345.5" r="1.42"/><circle cx="617.2" cy="353.4" r="1.42"/><circle cx="617.7" cy="349.0" r="1.42"/><circle cx="618.8" cy="332.7" r="1.42"/><circle cx="619.2" cy="341.4" r="1.42"/><circle cx="620.2" cy="351.1" r="1.42"/><circle cx="621.0" cy="340.7" r="1.42"/><circle cx="622.2" cy="340.1" r="1.42"/><circle cx="622.9" cy="338.9" r="1.42"/><circle cx="623.3" cy="331.7" r="1.42"/><circle cx="624.1" cy="334.9" r="1.42"/><circle cx="625.5" cy="334.5" r="1.42"/><circle cx="625.8" cy="328.3" r="1.42"/><circle cx="626.9" cy="326.4" r="1.42"/><circle cx="627.3" cy="329.1" r="1.42"/><circle cx="628.6" cy="321.8" r="1.42"/><circle cx="629.0" cy="326.8" r="1.42"/><circle cx="630.0" cy="331.3" r="1.42"/><circle cx="630.5" cy="326.8" r="1.42"/><circle cx="631.4" cy="315.1" r="1.42"/><circle cx="632.2" cy="314.3" r="1.42"/><circle cx="633.0" cy="325.7" r="1.42"/><circle cx="634.3" cy="318.8" r="1.42"/><circle cx="634.5" cy="317.4" r="1.42"/><circle cx="635.7" cy="313.2" r="1.42"/><circle cx="636.5" cy="321.8" r="1.42"/><circle cx="637.4" cy="308.2" r="1.42"/><circle cx="638.4" cy="308.1" r="1.42"/><circle cx="639.3" cy="310.7" r="1.42"/><circle cx="639.7" cy="300.4" r="1.42"/><circle cx="640.3" cy="305.3" r="1.42"/><circle cx="641.0" cy="307.8" r="1.42"/><circle cx="642.5" cy="302.2" r="1.42"/><circle cx="643.3" cy="309.6" r="1.42"/><circle cx="644.1" cy="302.1" r="1.42"/><circle cx="644.8" cy="306.9" r="1.42"/><circle cx="645.1" cy="308.0" r="1.42"/><circle cx="646.0" cy="306.3" r="1.42"/><circle cx="647.3" cy="307.2" r="1.42"/><circle cx="648.2" cy="299.3" r="1.42"/><circle cx="648.4" cy="302.5" r="1.42"/><circle cx="649.8" cy="303.3" r="1.42"/><circle cx="650.4" cy="301.6" r="1.42"/><circle cx="650.9" cy="299.9" r="1.42"/><circle cx="651.9" cy="295.6" r="1.42"/><circle cx="652.9" cy="292.8" r="1.42"/><circle cx="653.6" cy="295.4" r="1.42"/><circle cx="654.3" cy="301.5" r="1.42"/><circle cx="654.8" cy="304.3" r="1.42"/><circle cx="656.0" cy="299.8" r="1.42"/><circle cx="656.9" cy="302.3" r="1.42"/><circle cx="657.4" cy="289.0" r="1.42"/><circle cx="658.2" cy="297.4" r="1.42"/><circle cx="659.2" cy="292.2" r="1.42"/><circle cx="660.0" cy="295.2" r="1.42"/><circle cx="661.2" cy="291.2" r="1.42"/><circle cx="661.9" cy="295.1" r="1.42"/><circle cx="662.4" cy="296.7" r="1.42"/><circle cx="663.0" cy="298.7" r="1.42"/><circle cx="663.9" cy="291.3" r="1.42"/><circle cx="664.6" cy="288.4" r="1.42"/><circle cx="665.5" cy="294.7" r="1.42"/><circle cx="666.2" cy="288.2" r="1.42"/><circle cx="667.4" cy="284.7" r="1.42"/><circle cx="668.1" cy="291.4" r="1.42"/><circle cx="669.1" cy="291.2" r="1.42"/><circle cx="669.8" cy="287.4" r="1.42"/><circle cx="670.3" cy="289.2" r="1.42"/><circle cx="671.3" cy="289.7" r="1.42"/><circle cx="672.6" cy="285.9" r="1.42"/><circle cx="673.2" cy="294.2" r="1.42"/><circle cx="674.0" cy="288.9" r="1.42"/><circle cx="674.5" cy="296.0" r="1.42"/><circle cx="675.7" cy="285.8" r="1.42"/><circle cx="676.5" cy="281.2" r="1.42"/><circle cx="677.2" cy="278.9" r="1.42"/><circle cx="678.0" cy="290.3" r="1.42"/><circle cx="678.5" cy="277.9" r="1.42"/><circle cx="679.7" cy="281.8" r="1.42"/><circle cx="680.2" cy="281.6" r="1.42"/><circle cx="680.9" cy="281.4" r="1.42"/><circle cx="682.1" cy="277.8" r="1.42"/><circle cx="682.6" cy="280.4" r="1.42"/><circle cx="683.6" cy="279.1" r="1.42"/></g>
<g style="font-family:'Liberation Sans',sans-serif">
<text x="22.00" y="150.12" font-size="8.6" fill="#5a5a5a" text-anchor="end" >2</text>
<text x="372.20" y="150.12" font-size="8.6" fill="#5a5a5a" text-anchor="end" >2</text>
<text x="22.00" y="105.42" font-size="8.6" fill="#5a5a5a" text-anchor="end" >4</text>
<text x="372.20" y="105.42" font-size="8.6" fill="#5a5a5a" text-anchor="end" >4</text>
<text x="22.00" y="60.72" font-size="8.6" fill="#5a5a5a" text-anchor="end" >6</text>
<text x="372.20" y="60.72" font-size="8.6" fill="#5a5a5a" text-anchor="end" >6</text>
<text x="22.00" y="16.02" font-size="8.6" fill="#5a5a5a" text-anchor="end" >8</text>
<text x="372.20" y="16.02" font-size="8.6" fill="#5a5a5a" text-anchor="end" >8</text>
<text x="40.60" y="202.70" font-size="8.6" fill="#5a5a5a" text-anchor="middle" >0</text>
<text x="131.35" y="202.70" font-size="8.6" fill="#5a5a5a" text-anchor="middle" >50</text>
<text x="222.10" y="202.70" font-size="8.6" fill="#5a5a5a" text-anchor="middle" >100</text>
<text x="312.85" y="202.70" font-size="8.6" fill="#5a5a5a" text-anchor="middle" >150</text>
<text x="460.75" y="202.70" font-size="8.6" fill="#5a5a5a" text-anchor="middle" >5</text>
<text x="545.70" y="202.70" font-size="8.6" fill="#5a5a5a" text-anchor="middle" >10</text>
<text x="630.65" y="202.70" font-size="8.6" fill="#5a5a5a" text-anchor="middle" >15</text>
<text x="181.30" y="217.60" font-size="13" fill="#000" text-anchor="middle" >mean error (%)</text>
<text x="531.40" y="217.60" font-size="13" fill="#000" text-anchor="middle" >mean error (%)</text>
<text x="0.00" y="0.00" font-size="13" fill="#000" text-anchor="middle" transform="translate(9.8 94) rotate(-90)">hippus duration (s)</text>
<text x="0.00" y="0.00" font-size="13" fill="#000" text-anchor="middle" transform="translate(359.6 94) rotate(-90)">hippus duration (s)</text>
<text x="0.00" y="0.00" font-size="13" fill="#000" text-anchor="middle" transform="translate(10 343.5) rotate(-90)">normalized pupil radius (unitless)</text>
<text x="34.60" y="418.00" font-size="8.6" fill="#5a5a5a" text-anchor="end" >0.25</text>
<text x="34.60" y="353.00" font-size="8.6" fill="#5a5a5a" text-anchor="end" >0.50</text>
<text x="34.60" y="288.00" font-size="8.6" fill="#5a5a5a" text-anchor="end" >0.75</text>
<text x="50.00" y="464.20" font-size="8.6" fill="#5a5a5a" text-anchor="middle" >0.0</text>
<text x="103.28" y="464.20" font-size="8.6" fill="#5a5a5a" text-anchor="middle" >0.5</text>
<text x="156.57" y="464.20" font-size="8.6" fill="#5a5a5a" text-anchor="middle" >1.0</text>
<text x="209.85" y="464.20" font-size="8.6" fill="#5a5a5a" text-anchor="middle" >1.5</text>
<text x="129.80" y="480.00" font-size="13" fill="#000" text-anchor="middle" >time (s)</text>
<text x="247.26" y="464.20" font-size="8.6" fill="#5a5a5a" text-anchor="middle" >0.0</text>
<text x="314.24" y="464.20" font-size="8.6" fill="#5a5a5a" text-anchor="middle" >0.5</text>
<text x="381.22" y="464.20" font-size="8.6" fill="#5a5a5a" text-anchor="middle" >1.0</text>
<text x="448.20" y="464.20" font-size="8.6" fill="#5a5a5a" text-anchor="middle" >1.5</text>
<text x="344.50" y="480.00" font-size="13" fill="#000" text-anchor="middle" >time (s)</text>
<text x="480.77" y="464.20" font-size="8.6" fill="#5a5a5a" text-anchor="middle" >0.0</text>
<text x="527.19" y="464.20" font-size="8.6" fill="#5a5a5a" text-anchor="middle" >0.5</text>
<text x="573.62" y="464.20" font-size="8.6" fill="#5a5a5a" text-anchor="middle" >1.0</text>
<text x="620.04" y="464.20" font-size="8.6" fill="#5a5a5a" text-anchor="middle" >1.5</text>
<text x="666.47" y="464.20" font-size="8.6" fill="#5a5a5a" text-anchor="middle" >2.0</text>
<text x="578.00" y="480.00" font-size="13" fill="#000" text-anchor="middle" >time (s)</text>
</g>
</svg>
</body></html>
